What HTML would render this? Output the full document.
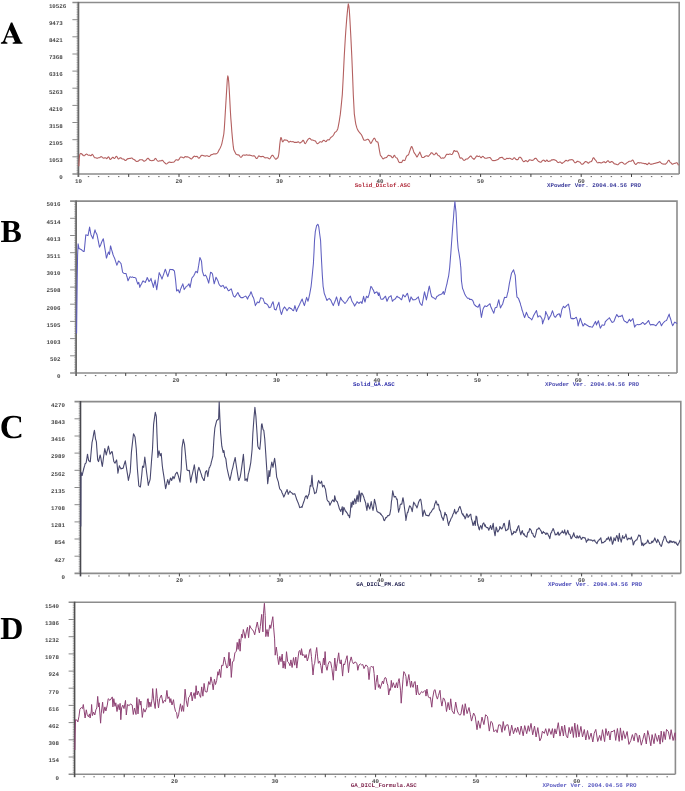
<!DOCTYPE html>
<html><head><meta charset="utf-8"><style>
html,body{margin:0;padding:0;background:#fff;width:685px;height:791px;overflow:hidden}
svg{display:block;will-change:transform;filter:blur(0.35px)}
text{text-rendering:geometricPrecision}
</style></head><body>
<svg width="685" height="791" viewBox="0 0 685 791"><rect width="100%" height="100%" fill="#fff"/><path fill-rule="evenodd" fill="#000" d="M10.9,22.6 L12.3,22.6 L20.9,41.9 Q21.4,42.5 22.4,42.6 L22.4,43.8 L12.7,43.8 L12.7,42.6 Q14.4,42.5 14.9,41.8 L13.2,37.6 L6.4,37.6 L5.2,40.8 Q4.9,42.3 7.4,42.6 L7.4,43.8 L0.9,43.8 L0.9,42.6 Q2.6,42.4 3.4,41 Z M9.6,29.4 L12.75,36.2 L6.9,36.2 Z"/><path d="M72.4,2.5 H679.2 V174.0 M72.4,174.0 H679.2" stroke="#8c8c8c" stroke-width="1.6" fill="none"/><path d="M72.4,156.8 H78.4 M72.4,139.7 H78.4 M72.4,122.5 H78.4 M72.4,105.4 H78.4 M72.4,88.2 H78.4 M72.4,71.1 H78.4 M72.4,54.0 H78.4 M72.4,36.8 H78.4 M72.4,19.7 H78.4 " stroke="#8a8a8a" stroke-width="1" fill="none"/><path d="M76.5,172.3 H78.4 M76.5,170.6 H78.4 M76.5,168.9 H78.4 M76.5,167.1 H78.4 M76.5,165.4 H78.4 M76.5,163.7 H78.4 M76.5,162.0 H78.4 M76.5,160.3 H78.4 M76.5,158.6 H78.4 M76.5,156.8 H78.4 M76.5,155.1 H78.4 M76.5,153.4 H78.4 M76.5,151.7 H78.4 M76.5,150.0 H78.4 M76.5,148.3 H78.4 M76.5,146.6 H78.4 M76.5,144.8 H78.4 M76.5,143.1 H78.4 M76.5,141.4 H78.4 M76.5,139.7 H78.4 M76.5,138.0 H78.4 M76.5,136.3 H78.4 M76.5,134.6 H78.4 M76.5,132.8 H78.4 M76.5,131.1 H78.4 M76.5,129.4 H78.4 M76.5,127.7 H78.4 M76.5,126.0 H78.4 M76.5,124.3 H78.4 M76.5,122.5 H78.4 M76.5,120.8 H78.4 M76.5,119.1 H78.4 M76.5,117.4 H78.4 M76.5,115.7 H78.4 M76.5,114.0 H78.4 M76.5,112.3 H78.4 M76.5,110.5 H78.4 M76.5,108.8 H78.4 M76.5,107.1 H78.4 M76.5,105.4 H78.4 M76.5,103.7 H78.4 M76.5,102.0 H78.4 M76.5,100.3 H78.4 M76.5,98.5 H78.4 M76.5,96.8 H78.4 M76.5,95.1 H78.4 M76.5,93.4 H78.4 M76.5,91.7 H78.4 M76.5,90.0 H78.4 M76.5,88.2 H78.4 M76.5,86.5 H78.4 M76.5,84.8 H78.4 M76.5,83.1 H78.4 M76.5,81.4 H78.4 M76.5,79.7 H78.4 M76.5,78.0 H78.4 M76.5,76.2 H78.4 M76.5,74.5 H78.4 M76.5,72.8 H78.4 M76.5,71.1 H78.4 M76.5,69.4 H78.4 M76.5,67.7 H78.4 M76.5,66.0 H78.4 M76.5,64.2 H78.4 M76.5,62.5 H78.4 M76.5,60.8 H78.4 M76.5,59.1 H78.4 M76.5,57.4 H78.4 M76.5,55.7 H78.4 M76.5,54.0 H78.4 M76.5,52.2 H78.4 M76.5,50.5 H78.4 M76.5,48.8 H78.4 M76.5,47.1 H78.4 M76.5,45.4 H78.4 M76.5,43.7 H78.4 M76.5,41.9 H78.4 M76.5,40.2 H78.4 M76.5,38.5 H78.4 M76.5,36.8 H78.4 M76.5,35.1 H78.4 M76.5,33.4 H78.4 M76.5,31.7 H78.4 M76.5,29.9 H78.4 M76.5,28.2 H78.4 M76.5,26.5 H78.4 M76.5,24.8 H78.4 M76.5,23.1 H78.4 M76.5,21.4 H78.4 M76.5,19.7 H78.4 M76.5,17.9 H78.4 M76.5,16.2 H78.4 M76.5,14.5 H78.4 M76.5,12.8 H78.4 M76.5,11.1 H78.4 M76.5,9.4 H78.4 M76.5,7.6 H78.4 M76.5,5.9 H78.4 M76.5,4.2 H78.4 " stroke="#9a9a9a" stroke-width="0.7" fill="none"/><path d="M78.4,1.9 V177.0" stroke="#686868" stroke-width="1.8" fill="none"/><text x="62.8" y="179.3" text-anchor="end" font-family="Liberation Mono" font-weight="bold" font-size="5.8" fill="#4a4a4a">0</text><text x="62.8" y="162.2" text-anchor="end" font-family="Liberation Mono" font-weight="bold" font-size="5.8" fill="#4a4a4a">1053</text><text x="62.8" y="145.0" text-anchor="end" font-family="Liberation Mono" font-weight="bold" font-size="5.8" fill="#4a4a4a">2105</text><text x="62.8" y="127.8" text-anchor="end" font-family="Liberation Mono" font-weight="bold" font-size="5.8" fill="#4a4a4a">3158</text><text x="62.8" y="110.7" text-anchor="end" font-family="Liberation Mono" font-weight="bold" font-size="5.8" fill="#4a4a4a">4210</text><text x="62.8" y="93.5" text-anchor="end" font-family="Liberation Mono" font-weight="bold" font-size="5.8" fill="#4a4a4a">5263</text><text x="62.8" y="76.4" text-anchor="end" font-family="Liberation Mono" font-weight="bold" font-size="5.8" fill="#4a4a4a">6316</text><text x="62.8" y="59.2" text-anchor="end" font-family="Liberation Mono" font-weight="bold" font-size="5.8" fill="#4a4a4a">7368</text><text x="62.8" y="42.1" text-anchor="end" font-family="Liberation Mono" font-weight="bold" font-size="5.8" fill="#4a4a4a">8421</text><text x="62.8" y="25.0" text-anchor="end" font-family="Liberation Mono" font-weight="bold" font-size="5.8" fill="#4a4a4a">9473</text><text x="48.9" y="7.8" font-family="Liberation Mono" font-weight="bold" font-size="5.8" fill="#4a4a4a">10526</text><path d="M128.7,174.0 V177.0 M179.0,174.0 V177.0 M229.3,174.0 V177.0 M279.6,174.0 V177.0 M329.8,174.0 V177.0 M380.1,174.0 V177.0 M430.4,174.0 V177.0 M480.6,174.0 V177.0 M530.9,174.0 V177.0 M581.2,174.0 V177.0 M631.5,174.0 V177.0 " stroke="#444" stroke-width="1" fill="none"/><path d="M87.8,176.6 H89.2 M97.9,176.6 H99.3 M107.9,176.6 H109.3 M118.0,176.6 H119.4 M138.1,176.6 H139.5 M148.1,176.6 H149.5 M158.2,176.6 H159.6 M168.2,176.6 H169.6 M188.4,176.6 H189.8 M198.4,176.6 H199.8 M208.5,176.6 H209.9 M218.5,176.6 H219.9 M238.6,176.6 H240.0 M248.7,176.6 H250.1 M258.7,176.6 H260.1 M268.8,176.6 H270.2 M288.9,176.6 H290.3 M299.0,176.6 H300.4 M309.0,176.6 H310.4 M319.1,176.6 H320.5 M339.2,176.6 H340.6 M349.2,176.6 H350.6 M359.3,176.6 H360.7 M369.3,176.6 H370.7 M389.5,176.6 H390.9 M399.5,176.6 H400.9 M409.6,176.6 H411.0 M419.6,176.6 H421.0 M439.7,176.6 H441.1 M449.8,176.6 H451.2 M459.8,176.6 H461.2 M469.9,176.6 H471.3 M490.0,176.6 H491.4 M500.1,176.6 H501.5 M510.1,176.6 H511.5 M520.2,176.6 H521.6 M540.3,176.6 H541.7 M550.3,176.6 H551.7 M560.4,176.6 H561.8 M570.4,176.6 H571.8 M590.6,176.6 H592.0 M600.6,176.6 H602.0 M610.7,176.6 H612.1 M620.7,176.6 H622.1 M640.8,176.6 H642.2 M650.9,176.6 H652.3 M660.9,176.6 H662.3 M671.0,176.6 H672.4 " stroke="#666" stroke-width="1" fill="none"/><text x="78.5" y="182.5" text-anchor="middle" font-family="Liberation Mono" font-weight="bold" font-size="5.8" fill="#4a4a4a">10</text><text x="179.0" y="182.5" text-anchor="middle" font-family="Liberation Mono" font-weight="bold" font-size="5.8" fill="#4a4a4a">20</text><text x="279.6" y="182.5" text-anchor="middle" font-family="Liberation Mono" font-weight="bold" font-size="5.8" fill="#4a4a4a">30</text><text x="380.1" y="182.5" text-anchor="middle" font-family="Liberation Mono" font-weight="bold" font-size="5.8" fill="#4a4a4a">40</text><text x="480.6" y="182.5" text-anchor="middle" font-family="Liberation Mono" font-weight="bold" font-size="5.8" fill="#4a4a4a">50</text><text x="581.2" y="182.5" text-anchor="middle" font-family="Liberation Mono" font-weight="bold" font-size="5.8" fill="#4a4a4a">60</text><text x="354.8" y="186.5" font-family="Liberation Mono" font-weight="bold" font-size="5.8" fill="#b02a3a">Solid_Diclof.ASC</text><text x="547.0" y="186.5" font-family="Liberation Mono" font-weight="bold" font-size="5.8" fill="#3a3a9a">XPowder Ver. 2004.04.56 PRO</text><path d="M78.8,166.3 L79.3,157.9 L79.8,154.5 L80.3,153.7 L80.8,153.4 L81.3,153.6 L81.8,154.0 L82.3,154.5 L82.8,155.0 L83.3,155.5 L83.8,155.8 L84.3,155.8 L84.8,155.4 L85.3,154.8 L85.8,154.4 L86.3,154.1 L86.8,154.1 L87.3,154.4 L87.8,154.9 L88.3,155.3 L88.8,155.3 L89.3,155.1 L89.8,155.2 L90.3,155.5 L90.8,155.8 L91.3,155.5 L91.8,154.7 L92.3,154.3 L92.8,154.8 L93.3,155.5 L93.8,156.4 L94.3,157.3 L94.8,157.8 L95.3,157.8 L95.8,157.7 L96.3,157.9 L96.8,158.2 L97.3,158.2 L97.8,158.1 L98.3,157.8 L98.8,157.7 L99.3,157.7 L99.8,157.5 L100.3,157.1 L100.8,156.7 L101.3,156.6 L101.8,156.9 L102.3,157.4 L102.8,157.8 L103.3,158.1 L103.8,158.3 L104.3,158.1 L104.8,157.8 L105.3,157.7 L105.8,157.9 L106.3,158.4 L106.8,158.7 L107.3,158.2 L107.8,157.3 L108.3,156.8 L108.8,157.1 L109.3,157.9 L109.8,159.1 L110.3,159.5 L110.8,159.1 L111.3,158.8 L111.8,158.2 L112.3,157.6 L112.8,157.2 L113.3,157.4 L113.8,158.1 L114.3,158.5 L114.8,158.3 L115.3,157.6 L115.8,156.8 L116.3,156.4 L116.8,156.5 L117.3,157.3 L117.8,158.3 L118.3,158.9 L118.8,158.9 L119.3,158.4 L119.8,157.9 L120.3,157.7 L120.8,157.8 L121.3,158.2 L121.8,158.7 L122.3,158.9 L122.8,159.0 L123.3,159.0 L123.8,159.2 L124.3,159.6 L124.8,160.2 L125.3,160.5 L125.8,160.4 L126.3,160.0 L126.8,159.5 L127.3,159.0 L127.8,158.6 L128.3,158.6 L128.8,158.6 L129.3,158.5 L129.8,158.4 L130.3,158.4 L130.8,158.2 L131.3,158.0 L131.8,158.0 L132.3,158.3 L132.8,158.8 L133.3,159.3 L133.8,159.5 L134.3,159.6 L134.8,160.0 L135.3,160.5 L135.8,161.1 L136.3,161.4 L136.8,161.4 L137.3,161.4 L137.8,161.3 L138.3,161.2 L138.8,160.7 L139.3,160.2 L139.8,159.8 L140.3,159.7 L140.8,159.8 L141.3,159.8 L141.8,159.7 L142.3,159.8 L142.8,160.2 L143.3,160.7 L143.8,161.1 L144.3,161.2 L144.8,161.0 L145.3,160.6 L145.8,160.3 L146.3,159.8 L146.8,159.2 L147.3,158.6 L147.8,158.3 L148.3,158.4 L148.8,158.9 L149.3,159.7 L149.8,160.2 L150.3,160.4 L150.8,160.4 L151.3,160.6 L151.8,160.7 L152.3,160.6 L152.8,160.4 L153.3,160.4 L153.8,160.3 L154.3,159.8 L154.8,158.9 L155.3,158.4 L155.8,158.6 L156.3,159.3 L156.8,160.0 L157.3,160.6 L157.8,161.0 L158.3,161.2 L158.8,161.2 L159.3,160.9 L159.8,160.7 L160.3,160.8 L160.8,160.9 L161.3,160.7 L161.8,160.4 L162.3,160.3 L162.8,160.6 L163.3,161.2 L163.8,161.8 L164.3,162.3 L164.8,162.8 L165.3,163.3 L165.8,163.7 L166.3,163.9 L166.8,163.7 L167.3,163.4 L167.8,163.0 L168.3,162.6 L168.8,162.3 L169.3,162.1 L169.8,162.1 L170.3,162.2 L170.8,162.5 L171.3,162.5 L171.8,162.4 L172.3,162.3 L172.8,162.2 L173.3,162.2 L173.8,162.0 L174.3,161.7 L174.8,161.1 L175.3,160.5 L175.8,159.9 L176.3,159.7 L176.8,159.7 L177.3,160.0 L177.8,160.3 L178.3,160.2 L178.8,159.7 L179.3,158.9 L179.8,158.0 L180.3,157.3 L180.8,157.0 L181.3,157.0 L181.8,157.2 L182.3,157.3 L182.8,157.5 L183.3,157.8 L183.8,157.9 L184.3,157.4 L184.8,156.8 L185.3,156.6 L185.8,156.7 L186.3,156.9 L186.8,156.9 L187.3,156.9 L187.8,156.9 L188.3,157.1 L188.8,157.4 L189.3,157.7 L189.8,158.0 L190.3,158.4 L190.8,158.8 L191.3,159.0 L191.8,158.7 L192.3,158.1 L192.8,157.5 L193.3,157.0 L193.8,156.5 L194.3,156.1 L194.8,156.2 L195.3,156.6 L195.8,156.8 L196.3,156.6 L196.8,156.3 L197.3,156.5 L197.8,157.1 L198.3,157.9 L198.8,158.2 L199.3,158.0 L199.8,157.5 L200.3,156.8 L200.8,156.0 L201.3,155.5 L201.8,155.2 L202.3,155.3 L202.8,155.5 L203.3,155.6 L203.8,155.7 L204.3,155.9 L204.8,156.0 L205.3,156.1 L205.8,156.0 L206.3,155.8 L206.8,155.7 L207.3,155.8 L207.8,156.1 L208.3,156.3 L208.8,156.5 L209.3,156.5 L209.8,156.1 L210.3,155.5 L210.8,155.0 L211.3,154.8 L211.8,154.6 L212.3,154.5 L212.8,154.3 L213.3,154.0 L213.8,153.9 L214.3,154.0 L214.8,153.9 L215.3,153.9 L215.8,153.9 L216.3,153.7 L216.8,153.4 L217.3,153.1 L217.8,152.4 L218.3,151.6 L218.8,150.5 L219.3,149.5 L219.8,148.7 L220.3,147.8 L220.8,146.6 L221.3,145.4 L221.8,143.8 L222.3,141.5 L222.8,139.2 L223.3,136.6 L223.8,134.0 L224.3,128.6 L224.8,120.8 L225.3,112.4 L225.8,104.0 L226.3,95.9 L226.8,87.7 L227.3,79.6 L227.8,75.9 L228.3,77.6 L228.8,82.7 L229.3,90.8 L229.8,100.1 L230.3,109.7 L230.8,118.0 L231.3,124.1 L231.8,131.3 L232.3,136.9 L232.8,142.1 L233.3,146.7 L233.8,149.8 L234.3,150.7 L234.8,151.7 L235.3,152.7 L235.8,153.8 L236.3,154.3 L236.8,154.6 L237.3,154.8 L237.8,154.9 L238.3,154.9 L238.8,155.0 L239.3,155.5 L239.8,156.3 L240.3,157.0 L240.8,157.2 L241.3,157.1 L241.8,156.6 L242.3,155.9 L242.8,155.2 L243.3,155.0 L243.8,155.0 L244.3,155.1 L244.8,155.3 L245.3,155.3 L245.8,155.1 L246.3,154.8 L246.8,154.7 L247.3,155.0 L247.8,155.2 L248.3,155.2 L248.8,155.1 L249.3,155.0 L249.8,155.1 L250.3,155.2 L250.8,155.4 L251.3,155.6 L251.8,155.8 L252.3,156.0 L252.8,156.0 L253.3,155.9 L253.8,155.8 L254.3,155.9 L254.8,156.2 L255.3,157.0 L255.8,157.9 L256.3,158.4 L256.8,158.5 L257.3,158.1 L257.8,157.3 L258.3,156.4 L258.8,155.9 L259.3,156.0 L259.8,156.4 L260.3,156.6 L260.8,156.6 L261.3,156.6 L261.8,156.6 L262.3,156.5 L262.8,156.4 L263.3,156.5 L263.8,156.9 L264.3,157.4 L264.8,157.8 L265.3,157.9 L265.8,157.8 L266.3,157.8 L266.8,157.8 L267.3,157.8 L267.8,157.9 L268.3,158.1 L268.8,158.6 L269.3,158.9 L269.8,158.8 L270.3,158.1 L270.8,157.2 L271.3,156.3 L271.8,155.6 L272.3,155.2 L272.8,155.3 L273.3,155.9 L273.8,156.8 L274.3,157.5 L274.8,158.1 L275.3,158.8 L275.8,159.3 L276.3,159.1 L276.8,158.5 L277.3,158.0 L277.8,157.9 L278.3,156.5 L278.8,154.0 L279.3,149.6 L279.8,144.1 L280.3,140.2 L280.8,137.6 L281.3,137.7 L281.8,139.6 L282.3,141.4 L282.8,141.8 L283.3,141.2 L283.8,140.5 L284.3,140.0 L284.8,139.7 L285.3,139.9 L285.8,140.2 L286.3,140.2 L286.8,140.1 L287.3,140.4 L287.8,141.0 L288.3,141.7 L288.8,142.1 L289.3,142.0 L289.8,141.6 L290.3,141.3 L290.8,141.5 L291.3,141.7 L291.8,141.8 L292.3,141.7 L292.8,141.6 L293.3,141.7 L293.8,142.0 L294.3,142.4 L294.8,142.5 L295.3,142.4 L295.8,142.3 L296.3,142.4 L296.8,142.5 L297.3,142.2 L297.8,141.9 L298.3,141.8 L298.8,142.1 L299.3,142.6 L299.8,143.0 L300.3,142.9 L300.8,142.5 L301.3,142.1 L301.8,141.8 L302.3,141.2 L302.8,140.4 L303.3,140.4 L303.8,141.1 L304.3,142.2 L304.8,143.4 L305.3,143.6 L305.8,143.0 L306.3,142.2 L306.8,141.3 L307.3,140.4 L307.8,139.7 L308.3,139.2 L308.8,138.7 L309.3,138.4 L309.8,138.4 L310.3,138.7 L310.8,139.3 L311.3,139.8 L311.8,140.1 L312.3,140.0 L312.8,140.0 L313.3,140.3 L313.8,140.5 L314.3,140.7 L314.8,140.7 L315.3,140.9 L315.8,141.6 L316.3,142.5 L316.8,143.3 L317.3,143.6 L317.8,143.6 L318.3,143.3 L318.8,142.9 L319.3,142.3 L319.8,141.9 L320.3,141.7 L320.8,141.8 L321.3,142.0 L321.8,142.1 L322.3,141.6 L322.8,140.9 L323.3,140.5 L323.8,140.2 L324.3,140.5 L324.8,140.9 L325.3,141.2 L325.8,141.6 L326.3,141.4 L326.8,140.6 L327.3,140.0 L327.8,139.7 L328.3,139.8 L328.8,140.0 L329.3,139.7 L329.8,139.0 L330.3,138.1 L330.8,137.5 L331.3,137.1 L331.8,136.7 L332.3,136.4 L332.8,135.9 L333.3,135.3 L333.8,134.4 L334.3,133.4 L334.8,132.5 L335.3,132.1 L335.8,131.8 L336.3,131.4 L336.8,130.7 L337.3,129.9 L337.8,128.7 L338.3,126.3 L338.8,123.7 L339.3,120.8 L339.8,117.5 L340.3,114.4 L340.8,109.8 L341.3,104.9 L341.8,99.7 L342.3,94.6 L342.8,85.3 L343.3,76.0 L343.8,65.4 L344.3,55.2 L344.8,46.7 L345.3,38.2 L345.8,30.8 L346.3,24.2 L346.8,17.9 L347.3,12.6 L347.8,7.5 L348.3,3.9 L348.8,5.8 L349.3,10.0 L349.8,17.8 L350.3,26.8 L350.8,36.0 L351.3,46.1 L351.8,56.5 L352.3,68.5 L352.8,81.2 L353.3,94.7 L353.8,104.3 L354.3,113.8 L354.8,117.4 L355.3,121.1 L355.8,124.1 L356.3,125.9 L356.8,127.7 L357.3,128.9 L357.8,129.9 L358.3,130.9 L358.8,131.6 L359.3,132.2 L359.8,132.8 L360.3,133.4 L360.8,134.0 L361.3,134.6 L361.8,135.5 L362.3,136.6 L362.8,137.8 L363.3,139.1 L363.8,140.1 L364.3,140.3 L364.8,140.3 L365.3,140.2 L365.8,140.0 L366.3,139.9 L366.8,139.6 L367.3,139.3 L367.8,139.3 L368.3,139.5 L368.8,140.0 L369.3,140.8 L369.8,141.8 L370.3,142.8 L370.8,143.4 L371.3,143.1 L371.8,142.1 L372.3,141.1 L372.8,140.2 L373.3,139.3 L373.8,138.4 L374.3,138.1 L374.8,138.6 L375.3,139.5 L375.8,140.7 L376.3,141.5 L376.8,141.8 L377.3,141.9 L377.8,142.0 L378.3,143.7 L378.8,146.6 L379.3,149.6 L379.8,152.4 L380.3,154.9 L380.8,155.9 L381.3,156.3 L381.8,157.1 L382.3,158.0 L382.8,158.8 L383.3,158.9 L383.8,158.5 L384.3,158.1 L384.8,157.9 L385.3,157.8 L385.8,157.8 L386.3,157.6 L386.8,157.2 L387.3,156.5 L387.8,155.8 L388.3,155.3 L388.8,155.3 L389.3,155.6 L389.8,155.8 L390.3,155.9 L390.8,155.9 L391.3,156.4 L391.8,157.2 L392.3,157.8 L392.8,157.8 L393.3,156.9 L393.8,155.8 L394.3,155.3 L394.8,155.7 L395.3,156.7 L395.8,157.4 L396.3,157.7 L396.8,157.9 L397.3,158.5 L397.8,159.5 L398.3,160.8 L398.8,161.9 L399.3,162.4 L399.8,162.6 L400.3,162.5 L400.8,162.4 L401.3,162.6 L401.8,162.3 L402.3,161.3 L402.8,160.3 L403.3,160.1 L403.8,160.4 L404.3,160.6 L404.8,160.4 L405.3,159.4 L405.8,158.1 L406.3,156.8 L406.8,155.9 L407.3,155.4 L407.8,155.3 L408.3,154.9 L408.8,153.9 L409.3,152.3 L409.8,150.8 L410.3,149.3 L410.8,148.0 L411.3,146.8 L411.8,146.5 L412.3,147.6 L412.8,148.8 L413.3,150.3 L413.8,151.9 L414.3,152.9 L414.8,153.6 L415.3,154.3 L415.8,155.1 L416.3,156.0 L416.8,156.9 L417.3,156.7 L417.8,155.7 L418.3,154.8 L418.8,154.0 L419.3,153.1 L419.8,152.0 L420.3,153.3 L420.8,154.5 L421.3,155.8 L421.8,157.1 L422.3,157.5 L422.8,157.5 L423.3,157.5 L423.8,157.3 L424.3,157.0 L424.8,156.5 L425.3,156.2 L425.8,156.0 L426.3,155.8 L426.8,155.8 L427.3,155.9 L427.8,156.3 L428.3,156.4 L428.8,155.9 L429.3,155.2 L429.8,154.7 L430.3,154.1 L430.8,153.3 L431.3,152.7 L431.8,152.7 L432.3,153.1 L432.8,153.6 L433.3,154.3 L433.8,154.8 L434.3,154.8 L434.8,154.4 L435.3,153.9 L435.8,153.1 L436.3,153.0 L436.8,153.5 L437.3,154.3 L437.8,155.1 L438.3,155.5 L438.8,155.7 L439.3,156.0 L439.8,156.5 L440.3,157.2 L440.8,158.0 L441.3,158.3 L441.8,158.2 L442.3,158.0 L442.8,157.9 L443.3,158.1 L443.8,158.1 L444.3,157.8 L444.8,157.3 L445.3,156.6 L445.8,155.6 L446.3,154.7 L446.8,154.3 L447.3,154.3 L447.8,154.4 L448.3,154.5 L448.8,154.4 L449.3,154.1 L449.8,154.0 L450.3,154.0 L450.8,154.3 L451.3,154.5 L451.8,154.5 L452.3,154.1 L452.8,153.4 L453.3,152.2 L453.8,151.0 L454.3,150.5 L454.8,150.8 L455.3,151.3 L455.8,151.4 L456.3,151.2 L456.8,151.0 L457.3,151.5 L457.8,152.2 L458.3,153.0 L458.8,154.4 L459.3,156.1 L459.8,157.6 L460.3,158.2 L460.8,158.0 L461.3,157.9 L461.8,158.1 L462.3,158.6 L462.8,159.2 L463.3,159.8 L463.8,160.3 L464.3,160.4 L464.8,160.1 L465.3,159.7 L465.8,159.3 L466.3,159.0 L466.8,159.0 L467.3,159.0 L467.8,158.7 L468.3,158.1 L468.8,157.6 L469.3,157.2 L469.8,156.6 L470.3,156.1 L470.8,156.0 L471.3,156.5 L471.8,157.3 L472.3,158.0 L472.8,158.4 L473.3,158.8 L473.8,159.2 L474.3,159.1 L474.8,158.4 L475.3,157.8 L475.8,157.1 L476.3,156.4 L476.8,155.9 L477.3,156.0 L477.8,156.4 L478.3,156.6 L478.8,156.4 L479.3,156.1 L479.8,156.3 L480.3,157.0 L480.8,157.6 L481.3,157.7 L481.8,157.1 L482.3,156.5 L482.8,156.4 L483.3,156.6 L483.8,157.1 L484.3,157.5 L484.8,158.1 L485.3,158.2 L485.8,158.2 L486.3,158.2 L486.8,158.2 L487.3,157.9 L487.8,157.7 L488.3,157.7 L488.8,157.7 L489.3,157.5 L489.8,157.5 L490.3,157.8 L490.8,158.4 L491.3,159.2 L491.8,159.9 L492.3,160.3 L492.8,160.6 L493.3,160.6 L493.8,160.5 L494.3,160.5 L494.8,160.6 L495.3,160.5 L495.8,160.2 L496.3,160.1 L496.8,159.9 L497.3,159.8 L497.8,159.5 L498.3,159.2 L498.8,158.8 L499.3,158.2 L499.8,157.7 L500.3,157.6 L500.8,157.6 L501.3,157.5 L501.8,157.3 L502.3,157.4 L502.8,157.9 L503.3,158.6 L503.8,159.0 L504.3,159.2 L504.8,159.4 L505.3,159.4 L505.8,159.1 L506.3,158.6 L506.8,158.3 L507.3,158.4 L507.8,158.6 L508.3,158.6 L508.8,158.4 L509.3,158.3 L509.8,158.3 L510.3,158.5 L510.8,158.8 L511.3,159.0 L511.8,159.3 L512.3,159.4 L512.8,159.2 L513.3,158.5 L513.8,157.9 L514.3,157.7 L514.8,158.0 L515.3,158.7 L515.8,159.3 L516.3,159.6 L516.8,159.6 L517.3,159.6 L517.8,159.7 L518.3,159.2 L518.8,157.9 L519.3,157.3 L519.8,157.2 L520.3,157.3 L520.8,157.7 L521.3,158.2 L521.8,158.9 L522.3,159.9 L522.8,160.8 L523.3,161.5 L523.8,161.8 L524.3,161.6 L524.8,161.2 L525.3,160.8 L525.8,160.6 L526.3,160.7 L526.8,161.1 L527.3,161.6 L527.8,161.7 L528.3,161.2 L528.8,160.4 L529.3,159.8 L529.8,159.7 L530.3,159.9 L530.8,160.1 L531.3,160.3 L531.8,160.4 L532.3,160.4 L532.8,160.3 L533.3,160.1 L533.8,159.6 L534.3,159.0 L534.8,158.5 L535.3,158.3 L535.8,158.2 L536.3,158.6 L536.8,159.3 L537.3,159.9 L537.8,160.6 L538.3,161.1 L538.8,161.6 L539.3,161.8 L539.8,162.0 L540.3,162.2 L540.8,162.3 L541.3,162.0 L541.8,161.3 L542.3,160.7 L542.8,160.4 L543.3,160.3 L543.8,160.1 L544.3,160.4 L544.8,161.1 L545.3,161.5 L545.8,161.2 L546.3,160.4 L546.8,160.0 L547.3,160.4 L547.8,161.1 L548.3,161.5 L548.8,161.4 L549.3,161.1 L549.8,161.1 L550.3,161.0 L550.8,160.7 L551.3,160.1 L551.8,159.7 L552.3,159.7 L552.8,159.9 L553.3,159.8 L553.8,159.6 L554.3,159.7 L554.8,160.0 L555.3,160.3 L555.8,160.4 L556.3,160.7 L556.8,161.3 L557.3,161.9 L557.8,162.4 L558.3,162.6 L558.8,162.4 L559.3,162.1 L559.8,162.0 L560.3,162.0 L560.8,162.4 L561.3,162.9 L561.8,163.4 L562.3,163.4 L562.8,162.9 L563.3,162.4 L563.8,162.1 L564.3,161.7 L564.8,161.3 L565.3,160.8 L565.8,160.4 L566.3,160.4 L566.8,160.6 L567.3,161.0 L567.8,161.0 L568.3,160.7 L568.8,160.3 L569.3,160.0 L569.8,159.9 L570.3,159.9 L570.8,159.8 L571.3,159.7 L571.8,159.6 L572.3,159.7 L572.8,160.0 L573.3,160.4 L573.8,161.2 L574.3,162.0 L574.8,162.6 L575.3,162.7 L575.8,162.6 L576.3,162.3 L576.8,161.7 L577.3,161.3 L577.8,161.2 L578.3,161.5 L578.8,161.7 L579.3,161.9 L579.8,162.1 L580.3,162.5 L580.8,163.2 L581.3,163.9 L581.8,164.3 L582.3,164.2 L582.8,164.1 L583.3,163.7 L583.8,163.3 L584.3,162.6 L584.8,162.0 L585.3,161.6 L585.8,161.6 L586.3,161.8 L586.8,162.0 L587.3,162.3 L587.8,162.8 L588.3,163.2 L588.8,163.0 L589.3,162.4 L589.8,161.9 L590.3,161.7 L590.8,161.7 L591.3,161.5 L591.8,161.0 L592.3,159.9 L592.8,158.5 L593.3,157.7 L593.8,157.8 L594.3,158.6 L594.8,159.4 L595.3,159.9 L595.8,160.5 L596.3,161.1 L596.8,162.0 L597.3,162.6 L597.8,162.9 L598.3,162.7 L598.8,162.4 L599.3,162.5 L599.8,162.6 L600.3,162.8 L600.8,162.9 L601.3,163.0 L601.8,162.8 L602.3,162.5 L602.8,162.2 L603.3,161.9 L603.8,161.7 L604.3,161.8 L604.8,162.2 L605.3,162.6 L605.8,162.6 L606.3,162.2 L606.8,161.6 L607.3,161.1 L607.8,160.7 L608.3,160.8 L608.8,161.4 L609.3,162.1 L609.8,162.5 L610.3,162.4 L610.8,162.0 L611.3,161.6 L611.8,161.6 L612.3,161.7 L612.8,162.1 L613.3,162.7 L613.8,163.3 L614.3,163.7 L614.8,163.9 L615.3,164.0 L615.8,164.1 L616.3,164.3 L616.8,164.6 L617.3,164.8 L617.8,164.8 L618.3,164.4 L618.8,163.8 L619.3,163.3 L619.8,162.9 L620.3,162.7 L620.8,162.5 L621.3,162.3 L621.8,162.2 L622.3,162.4 L622.8,162.8 L623.3,163.1 L623.8,163.6 L624.3,164.0 L624.8,164.2 L625.3,164.1 L625.8,163.8 L626.3,163.3 L626.8,162.9 L627.3,162.6 L627.8,162.3 L628.3,161.9 L628.8,161.5 L629.3,161.3 L629.8,161.2 L630.3,161.2 L630.8,161.2 L631.3,161.1 L631.8,160.6 L632.3,160.1 L632.8,160.1 L633.3,160.7 L633.8,161.7 L634.3,162.9 L634.8,163.7 L635.3,164.2 L635.8,164.4 L636.3,164.2 L636.8,163.7 L637.3,163.0 L637.8,162.7 L638.3,162.6 L638.8,162.8 L639.3,162.9 L639.8,162.9 L640.3,162.8 L640.8,162.8 L641.3,162.9 L641.8,163.1 L642.3,163.3 L642.8,163.3 L643.3,163.3 L643.8,163.5 L644.3,163.6 L644.8,163.6 L645.3,163.5 L645.8,163.6 L646.3,164.0 L646.8,164.5 L647.3,164.6 L647.8,164.2 L648.3,163.5 L648.8,163.0 L649.3,163.1 L649.8,163.6 L650.3,164.1 L650.8,164.4 L651.3,164.3 L651.8,164.1 L652.3,164.0 L652.8,164.0 L653.3,163.7 L653.8,163.5 L654.3,163.5 L654.8,163.4 L655.3,163.3 L655.8,163.1 L656.3,163.0 L656.8,162.7 L657.3,162.6 L657.8,162.6 L658.3,162.5 L658.8,162.2 L659.3,161.8 L659.8,161.7 L660.3,162.1 L660.8,162.7 L661.3,163.2 L661.8,163.5 L662.3,163.8 L662.8,164.0 L663.3,164.1 L663.8,164.0 L664.3,164.0 L664.8,164.2 L665.3,164.2 L665.8,163.8 L666.3,163.4 L666.8,162.9 L667.3,162.1 L667.8,161.2 L668.3,160.5 L668.8,160.2 L669.3,160.7 L669.8,161.7 L670.3,162.4 L670.8,162.7 L671.3,163.1 L671.8,163.8 L672.3,164.2 L672.8,164.2 L673.3,163.9 L673.8,163.6 L674.3,163.4 L674.8,163.2 L675.3,163.2 L675.8,163.1 L676.3,162.8 L676.8,162.7 L677.3,163.2 L677.8,164.0 L678.3,164.9 L678.8,165.1" stroke="#b46060" stroke-width="1.1" fill="none" stroke-linejoin="round"/><text x="0.6" y="242.0" font-family="Liberation Serif" font-weight="bold" font-size="32" fill="#000">B</text><path d="M70.1,201.1 H677.0 V373.0 M70.1,373.0 H677.0" stroke="#8c8c8c" stroke-width="1.6" fill="none"/><path d="M70.1,355.8 H76.1 M70.1,338.6 H76.1 M70.1,321.4 H76.1 M70.1,304.2 H76.1 M70.1,287.1 H76.1 M70.1,269.9 H76.1 M70.1,252.7 H76.1 M70.1,235.5 H76.1 M70.1,218.3 H76.1 " stroke="#8a8a8a" stroke-width="1" fill="none"/><path d="M74.2,371.3 H76.1 M74.2,369.6 H76.1 M74.2,367.8 H76.1 M74.2,366.1 H76.1 M74.2,364.4 H76.1 M74.2,362.7 H76.1 M74.2,361.0 H76.1 M74.2,359.2 H76.1 M74.2,357.5 H76.1 M74.2,355.8 H76.1 M74.2,354.1 H76.1 M74.2,352.4 H76.1 M74.2,350.7 H76.1 M74.2,348.9 H76.1 M74.2,347.2 H76.1 M74.2,345.5 H76.1 M74.2,343.8 H76.1 M74.2,342.1 H76.1 M74.2,340.3 H76.1 M74.2,338.6 H76.1 M74.2,336.9 H76.1 M74.2,335.2 H76.1 M74.2,333.5 H76.1 M74.2,331.7 H76.1 M74.2,330.0 H76.1 M74.2,328.3 H76.1 M74.2,326.6 H76.1 M74.2,324.9 H76.1 M74.2,323.1 H76.1 M74.2,321.4 H76.1 M74.2,319.7 H76.1 M74.2,318.0 H76.1 M74.2,316.3 H76.1 M74.2,314.6 H76.1 M74.2,312.8 H76.1 M74.2,311.1 H76.1 M74.2,309.4 H76.1 M74.2,307.7 H76.1 M74.2,306.0 H76.1 M74.2,304.2 H76.1 M74.2,302.5 H76.1 M74.2,300.8 H76.1 M74.2,299.1 H76.1 M74.2,297.4 H76.1 M74.2,295.6 H76.1 M74.2,293.9 H76.1 M74.2,292.2 H76.1 M74.2,290.5 H76.1 M74.2,288.8 H76.1 M74.2,287.1 H76.1 M74.2,285.3 H76.1 M74.2,283.6 H76.1 M74.2,281.9 H76.1 M74.2,280.2 H76.1 M74.2,278.5 H76.1 M74.2,276.7 H76.1 M74.2,275.0 H76.1 M74.2,273.3 H76.1 M74.2,271.6 H76.1 M74.2,269.9 H76.1 M74.2,268.1 H76.1 M74.2,266.4 H76.1 M74.2,264.7 H76.1 M74.2,263.0 H76.1 M74.2,261.3 H76.1 M74.2,259.5 H76.1 M74.2,257.8 H76.1 M74.2,256.1 H76.1 M74.2,254.4 H76.1 M74.2,252.7 H76.1 M74.2,251.0 H76.1 M74.2,249.2 H76.1 M74.2,247.5 H76.1 M74.2,245.8 H76.1 M74.2,244.1 H76.1 M74.2,242.4 H76.1 M74.2,240.6 H76.1 M74.2,238.9 H76.1 M74.2,237.2 H76.1 M74.2,235.5 H76.1 M74.2,233.8 H76.1 M74.2,232.0 H76.1 M74.2,230.3 H76.1 M74.2,228.6 H76.1 M74.2,226.9 H76.1 M74.2,225.2 H76.1 M74.2,223.4 H76.1 M74.2,221.7 H76.1 M74.2,220.0 H76.1 M74.2,218.3 H76.1 M74.2,216.6 H76.1 M74.2,214.9 H76.1 M74.2,213.1 H76.1 M74.2,211.4 H76.1 M74.2,209.7 H76.1 M74.2,208.0 H76.1 M74.2,206.3 H76.1 M74.2,204.5 H76.1 M74.2,202.8 H76.1 " stroke="#9a9a9a" stroke-width="0.7" fill="none"/><path d="M76.1,200.5 V376.0" stroke="#6c6c6c" stroke-width="1.8" fill="none"/><text x="60.5" y="378.3" text-anchor="end" font-family="Liberation Mono" font-weight="bold" font-size="5.8" fill="#4a4a4a">0</text><text x="60.5" y="361.1" text-anchor="end" font-family="Liberation Mono" font-weight="bold" font-size="5.8" fill="#4a4a4a">502</text><text x="60.5" y="343.9" text-anchor="end" font-family="Liberation Mono" font-weight="bold" font-size="5.8" fill="#4a4a4a">1003</text><text x="60.5" y="326.7" text-anchor="end" font-family="Liberation Mono" font-weight="bold" font-size="5.8" fill="#4a4a4a">1505</text><text x="60.5" y="309.5" text-anchor="end" font-family="Liberation Mono" font-weight="bold" font-size="5.8" fill="#4a4a4a">2006</text><text x="60.5" y="292.4" text-anchor="end" font-family="Liberation Mono" font-weight="bold" font-size="5.8" fill="#4a4a4a">2508</text><text x="60.5" y="275.2" text-anchor="end" font-family="Liberation Mono" font-weight="bold" font-size="5.8" fill="#4a4a4a">3010</text><text x="60.5" y="258.0" text-anchor="end" font-family="Liberation Mono" font-weight="bold" font-size="5.8" fill="#4a4a4a">3511</text><text x="60.5" y="240.8" text-anchor="end" font-family="Liberation Mono" font-weight="bold" font-size="5.8" fill="#4a4a4a">4013</text><text x="60.5" y="223.6" text-anchor="end" font-family="Liberation Mono" font-weight="bold" font-size="5.8" fill="#4a4a4a">4514</text><text x="60.5" y="206.4" text-anchor="end" font-family="Liberation Mono" font-weight="bold" font-size="5.8" fill="#4a4a4a">5016</text><path d="M125.7,373.0 V376.0 M176.0,373.0 V376.0 M226.3,373.0 V376.0 M276.6,373.0 V376.0 M326.8,373.0 V376.0 M377.1,373.0 V376.0 M427.4,373.0 V376.0 M477.6,373.0 V376.0 M527.9,373.0 V376.0 M578.2,373.0 V376.0 M628.5,373.0 V376.0 " stroke="#444" stroke-width="1" fill="none"/><path d="M84.8,375.6 H86.2 M94.9,375.6 H96.3 M104.9,375.6 H106.3 M115.0,375.6 H116.4 M135.1,375.6 H136.5 M145.1,375.6 H146.5 M155.2,375.6 H156.6 M165.2,375.6 H166.6 M185.4,375.6 H186.8 M195.4,375.6 H196.8 M205.5,375.6 H206.9 M215.5,375.6 H216.9 M235.6,375.6 H237.0 M245.7,375.6 H247.1 M255.7,375.6 H257.1 M265.8,375.6 H267.2 M285.9,375.6 H287.3 M296.0,375.6 H297.4 M306.0,375.6 H307.4 M316.1,375.6 H317.5 M336.2,375.6 H337.6 M346.2,375.6 H347.6 M356.3,375.6 H357.7 M366.3,375.6 H367.7 M386.5,375.6 H387.9 M396.5,375.6 H397.9 M406.6,375.6 H408.0 M416.6,375.6 H418.0 M436.7,375.6 H438.1 M446.8,375.6 H448.2 M456.8,375.6 H458.2 M466.9,375.6 H468.3 M487.0,375.6 H488.4 M497.1,375.6 H498.5 M507.1,375.6 H508.5 M517.2,375.6 H518.6 M537.3,375.6 H538.7 M547.3,375.6 H548.7 M557.4,375.6 H558.8 M567.4,375.6 H568.8 M587.6,375.6 H589.0 M597.6,375.6 H599.0 M607.7,375.6 H609.1 M617.7,375.6 H619.1 M637.8,375.6 H639.2 M647.9,375.6 H649.3 M657.9,375.6 H659.3 M668.0,375.6 H669.4 " stroke="#666" stroke-width="1" fill="none"/><text x="176.0" y="381.5" text-anchor="middle" font-family="Liberation Mono" font-weight="bold" font-size="5.8" fill="#4a4a4a">20</text><text x="276.6" y="381.5" text-anchor="middle" font-family="Liberation Mono" font-weight="bold" font-size="5.8" fill="#4a4a4a">30</text><text x="377.1" y="381.5" text-anchor="middle" font-family="Liberation Mono" font-weight="bold" font-size="5.8" fill="#4a4a4a">40</text><text x="477.6" y="381.5" text-anchor="middle" font-family="Liberation Mono" font-weight="bold" font-size="5.8" fill="#4a4a4a">50</text><text x="578.2" y="381.5" text-anchor="middle" font-family="Liberation Mono" font-weight="bold" font-size="5.8" fill="#4a4a4a">60</text><text x="353.0" y="385.5" font-family="Liberation Mono" font-weight="bold" font-size="5.8" fill="#2a2aa8">Solid_GA.ASC</text><text x="545.0" y="385.5" font-family="Liberation Mono" font-weight="bold" font-size="5.8" fill="#4a4ab0">XPowder Ver. 2004.04.56 PRO</text><path d="M76.6,333.4 L77.2,280.0 L77.6,255.0 L78.1,243.8 L78.6,246.4 L79.0,248.7 L79.6,248.8 L80.6,249.3 L81.6,249.8 L82.0,250.4 L82.6,250.8 L83.6,251.5 L84.2,251.5 L84.6,247.4 L85.6,236.9 L85.8,234.7 L86.6,235.1 L87.6,235.4 L88.0,235.6 L88.6,232.7 L89.6,227.1 L90.6,232.9 L91.0,234.7 L91.6,236.0 L92.6,238.1 L92.9,238.8 L93.6,235.5 L94.6,231.5 L95.0,229.8 L95.6,231.9 L96.6,233.7 L97.0,234.7 L97.6,237.6 L98.6,242.7 L99.5,247.1 L99.6,247.1 L100.6,245.0 L101.6,242.3 L102.6,240.0 L103.3,238.8 L103.6,240.4 L104.6,246.9 L105.6,252.6 L106.4,258.1 L106.6,257.9 L107.6,254.4 L108.5,252.0 L108.6,252.2 L109.5,254.5 L109.6,254.0 L110.5,245.9 L110.6,246.0 L111.6,249.7 L112.6,253.0 L113.0,254.5 L113.6,256.1 L114.6,258.3 L115.0,259.4 L115.6,261.4 L116.6,264.4 L116.8,265.2 L117.6,263.5 L118.5,261.0 L118.6,261.0 L119.6,261.8 L120.6,263.2 L121.0,263.5 L121.6,266.3 L122.5,271.7 L122.6,272.2 L123.6,273.1 L124.0,273.4 L124.6,273.5 L125.6,273.4 L126.0,273.4 L126.6,275.7 L127.0,276.7 L127.6,279.2 L128.0,280.8 L128.6,279.5 L129.6,277.4 L130.0,276.7 L130.6,276.9 L131.6,277.4 L132.6,276.9 L133.0,277.2 L133.6,277.5 L134.6,277.5 L135.0,277.5 L135.6,278.1 L136.0,278.3 L136.6,280.6 L137.6,283.6 L137.8,284.1 L138.6,282.5 L138.8,282.4 L139.6,286.4 L139.8,287.4 L140.6,285.4 L141.6,283.8 L142.6,281.5 L143.1,280.8 L143.6,281.5 L144.6,281.9 L145.5,282.4 L145.6,281.5 L146.6,279.6 L147.2,277.5 L147.6,278.3 L148.6,280.5 L149.0,281.6 L149.6,280.9 L150.6,279.5 L151.0,278.3 L151.6,281.1 L152.6,284.2 L153.4,287.4 L153.6,286.2 L154.6,282.5 L155.1,280.0 L155.6,283.1 L156.6,288.9 L156.7,289.8 L157.6,284.0 L158.6,276.7 L159.2,272.6 L159.6,273.5 L160.6,275.5 L161.6,278.1 L162.0,279.1 L162.6,277.2 L163.6,274.3 L164.6,271.1 L165.3,269.3 L165.6,270.0 L166.6,273.2 L167.6,276.0 L167.8,276.7 L168.6,273.9 L169.6,270.4 L169.9,269.3 L170.6,269.4 L171.6,269.6 L172.6,269.6 L173.0,269.6 L173.6,270.4 L174.4,270.7 L174.6,272.4 L175.5,279.4 L175.6,280.2 L176.6,291.0 L177.6,290.1 L178.0,289.6 L178.6,290.8 L179.5,292.8 L179.6,292.8 L180.6,288.9 L181.0,288.2 L181.6,286.8 L182.6,284.4 L182.8,283.8 L183.6,286.8 L184.2,289.6 L184.6,288.6 L185.6,287.9 L186.0,286.7 L186.6,286.4 L187.6,285.6 L188.0,285.3 L188.6,284.1 L189.0,283.8 L189.6,286.0 L190.1,287.4 L190.6,284.6 L191.6,279.4 L191.9,278.0 L192.6,277.2 L193.6,276.0 L194.1,275.0 L194.6,274.0 L195.6,271.8 L196.0,271.4 L196.6,271.9 L197.5,272.8 L197.6,271.8 L198.5,266.3 L198.6,265.9 L199.6,259.3 L199.9,257.5 L200.6,258.9 L201.5,261.2 L201.6,262.1 L202.4,271.4 L202.6,271.9 L203.6,275.0 L203.9,275.8 L204.6,275.8 L205.5,275.0 L205.6,275.3 L206.6,276.8 L207.0,278.0 L207.6,279.6 L208.6,282.9 L208.7,283.1 L209.6,277.9 L210.6,272.2 L211.6,272.7 L212.3,273.6 L212.6,274.7 L213.6,280.6 L214.2,283.8 L214.6,282.4 L215.6,279.0 L216.0,277.2 L216.6,278.3 L217.6,280.2 L218.0,280.9 L218.6,283.1 L219.2,284.5 L219.6,285.2 L220.6,286.1 L221.1,286.7 L221.6,286.1 L222.6,285.8 L223.0,285.3 L223.6,286.2 L224.6,288.4 L224.7,288.2 L225.6,287.3 L226.0,286.7 L226.6,287.7 L227.5,288.9 L227.6,289.5 L228.4,290.8 L228.6,290.7 L229.6,290.2 L230.6,289.2 L231.3,288.9 L231.6,289.9 L232.6,293.3 L233.5,296.2 L233.6,296.2 L234.6,297.0 L235.0,296.9 L235.6,295.9 L236.6,294.6 L237.6,292.8 L237.9,292.6 L238.6,294.0 L239.5,296.2 L239.6,295.6 L240.6,297.4 L241.0,297.7 L241.6,297.6 L242.6,297.6 L243.0,297.7 L243.6,297.1 L244.6,296.6 L245.6,296.1 L245.9,296.2 L246.6,297.3 L247.5,299.1 L247.6,299.1 L248.6,296.3 L249.6,295.4 L250.6,292.8 L251.0,291.8 L251.6,293.2 L252.6,296.3 L253.6,298.1 L253.9,299.1 L254.6,302.2 L255.4,305.7 L255.6,304.8 L256.6,303.7 L257.3,302.0 L257.6,302.0 L258.6,302.6 L259.0,302.8 L259.6,301.3 L260.6,297.9 L260.8,297.7 L261.6,298.0 L262.6,298.3 L263.0,298.4 L263.6,300.4 L264.6,302.9 L264.9,303.5 L265.6,303.1 L266.6,304.1 L267.0,304.2 L267.6,304.8 L268.6,306.7 L269.1,307.8 L269.6,307.3 L270.6,307.2 L271.0,306.4 L271.6,304.4 L272.6,302.5 L273.0,301.7 L273.6,304.4 L274.5,309.3 L274.6,309.3 L275.6,309.8 L276.0,310.0 L276.6,308.2 L277.6,305.3 L278.6,303.1 L278.9,302.3 L279.6,306.6 L280.0,309.3 L280.6,311.7 L281.4,314.4 L281.6,314.0 L282.6,310.8 L283.0,309.3 L283.6,308.4 L284.6,306.9 L284.7,307.1 L285.6,308.3 L286.6,310.0 L287.0,310.7 L287.6,309.8 L288.6,308.3 L289.1,307.5 L289.6,307.8 L290.6,308.5 L291.0,308.5 L291.6,309.0 L292.6,310.2 L293.5,310.7 L293.6,310.6 L294.6,307.0 L294.9,305.6 L295.6,308.0 L296.4,311.5 L296.6,311.1 L297.6,308.4 L298.6,306.4 L299.6,304.5 L300.0,303.4 L300.6,302.3 L301.6,300.0 L302.2,299.0 L302.6,300.6 L303.6,303.6 L304.4,305.6 L304.6,304.8 L305.6,301.2 L306.6,297.3 L307.6,300.2 L308.0,301.2 L308.6,299.1 L309.4,295.4 L309.6,294.6 L310.6,289.2 L311.1,286.3 L311.6,281.7 L312.3,274.9 L312.6,271.8 L313.4,263.5 L313.6,259.5 L314.0,252.1 L314.5,240.8 L314.6,239.6 L315.3,231.7 L315.6,230.3 L316.5,226.0 L316.6,225.7 L317.6,224.5 L317.9,224.3 L318.6,226.2 L318.8,227.0 L319.4,231.7 L319.6,233.3 L320.6,240.7 L321.1,252.1 L321.6,261.7 L321.7,263.5 L322.3,274.9 L322.6,279.1 L323.1,286.3 L323.6,289.2 L324.2,293.1 L324.6,294.2 L325.6,296.9 L326.5,299.3 L326.6,299.7 L327.0,300.5 L327.6,299.6 L328.6,298.9 L329.2,298.3 L329.6,298.8 L330.6,299.9 L331.0,300.5 L331.6,302.0 L332.6,304.3 L333.3,305.6 L333.6,304.6 L334.6,302.3 L335.6,299.7 L336.5,296.9 L336.6,297.2 L337.6,300.9 L338.6,305.4 L338.7,305.6 L339.6,301.7 L340.6,297.3 L341.6,299.7 L342.6,300.9 L343.0,301.2 L343.6,301.8 L344.6,303.2 L345.0,303.4 L345.6,302.8 L346.6,301.5 L347.6,300.1 L348.6,298.1 L349.6,297.2 L350.4,296.1 L350.6,296.8 L351.6,300.2 L352.0,301.2 L352.6,302.2 L353.6,303.7 L354.6,306.1 L354.8,305.6 L355.6,304.4 L356.6,302.8 L357.0,301.7 L357.6,302.2 L358.6,303.2 L359.0,303.4 L359.6,302.4 L360.6,302.1 L361.0,301.7 L361.6,302.9 L362.0,303.5 L362.6,300.6 L363.6,296.3 L364.6,300.8 L365.0,302.0 L365.6,299.6 L366.5,296.2 L366.6,296.3 L367.6,297.4 L368.0,297.7 L368.6,295.8 L369.0,294.7 L369.6,292.3 L370.6,287.7 L370.9,286.4 L371.6,287.1 L372.6,289.1 L373.0,289.6 L373.6,290.8 L374.6,293.5 L375.6,292.4 L376.6,292.1 L376.8,291.8 L377.6,293.3 L378.5,295.5 L378.6,295.1 L379.0,292.6 L379.6,294.7 L380.6,298.2 L380.9,299.1 L381.6,299.3 L382.6,299.1 L383.0,299.1 L383.6,298.3 L384.6,297.1 L385.5,296.2 L385.6,296.5 L386.6,300.0 L387.0,301.3 L387.6,300.0 L388.6,297.8 L389.0,296.9 L389.6,296.8 L390.6,296.1 L391.0,295.5 L391.6,298.0 L392.4,301.3 L392.6,301.1 L393.6,299.8 L394.6,299.4 L395.6,298.5 L396.0,297.7 L396.6,296.7 L397.2,296.2 L397.6,296.9 L398.6,297.3 L399.6,298.0 L400.0,298.4 L400.6,299.0 L401.6,299.8 L402.6,296.3 L403.0,294.7 L403.6,295.4 L404.6,296.4 L405.0,296.9 L405.6,296.1 L406.6,294.4 L407.4,293.3 L407.6,293.8 L408.6,297.9 L409.6,301.9 L410.6,298.6 L411.0,296.9 L411.6,297.8 L412.6,299.4 L413.0,299.9 L413.6,299.7 L414.6,299.8 L415.6,299.5 L416.0,299.1 L416.6,298.4 L417.6,297.7 L418.4,296.9 L418.6,297.9 L419.6,301.8 L419.9,302.8 L420.6,304.0 L421.6,305.1 L422.0,305.4 L422.6,302.1 L423.6,296.9 L424.5,291.8 L424.6,292.2 L425.6,296.4 L426.4,299.9 L426.6,298.9 L427.6,294.4 L428.6,289.1 L429.3,286.0 L429.6,287.3 L430.6,292.4 L431.5,296.2 L431.6,296.7 L432.6,297.0 L433.0,297.7 L433.6,297.7 L434.6,298.6 L435.6,299.2 L436.6,297.1 L437.0,296.2 L437.6,296.2 L438.6,295.3 L439.6,294.7 L440.0,294.7 L440.6,294.5 L441.6,294.1 L441.8,294.0 L442.6,292.9 L443.3,291.5 L443.6,292.4 L444.2,294.5 L444.6,292.9 L444.9,292.4 L445.6,289.2 L446.6,285.0 L446.9,284.1 L447.6,280.3 L448.6,276.2 L449.6,268.2 L449.7,267.4 L450.6,255.9 L450.8,253.6 L451.6,242.2 L451.8,239.7 L452.6,228.4 L452.8,225.8 L453.6,216.3 L453.9,211.9 L454.6,204.3 L454.9,201.5 L455.6,208.4 L456.0,211.9 L456.6,223.5 L456.7,225.8 L457.4,239.7 L457.6,241.8 L458.1,248.0 L458.6,251.2 L458.8,252.0 L459.6,257.1 L460.1,260.5 L460.6,265.9 L460.8,267.4 L461.5,281.3 L461.6,281.7 L462.5,288.3 L462.6,288.5 L463.6,290.9 L464.6,293.7 L465.0,294.5 L465.6,295.7 L466.6,297.0 L467.5,298.2 L467.6,298.3 L468.6,298.2 L469.0,298.2 L469.6,299.4 L470.6,299.3 L471.6,299.5 L472.6,300.3 L473.6,302.5 L474.0,304.0 L474.6,305.0 L475.6,305.5 L475.9,306.2 L476.6,306.5 L477.6,307.0 L478.0,307.3 L478.6,306.1 L479.6,304.1 L480.6,311.8 L481.4,317.4 L481.6,316.5 L482.6,311.2 L483.1,309.0 L483.6,307.9 L484.6,306.3 L485.0,305.7 L485.6,306.2 L486.6,306.5 L486.7,306.5 L487.6,305.7 L488.6,304.9 L489.6,303.9 L490.0,303.7 L490.6,306.0 L491.0,307.3 L491.6,308.5 L492.6,310.7 L493.6,312.7 L493.8,313.2 L494.6,310.2 L495.0,308.2 L495.6,307.6 L496.6,307.4 L496.8,307.3 L497.6,304.2 L498.6,300.2 L498.8,299.8 L499.6,304.1 L500.4,307.7 L500.6,307.9 L501.6,305.6 L502.6,304.3 L502.7,303.9 L503.6,300.5 L504.5,297.5 L504.6,297.3 L505.6,297.4 L506.4,297.5 L506.6,297.3 L507.6,293.0 L508.0,291.8 L508.6,288.3 L509.5,282.7 L509.6,282.3 L510.6,277.6 L511.4,273.6 L511.6,273.1 L512.6,271.4 L513.6,269.8 L514.6,273.6 L515.2,275.2 L515.6,280.4 L515.9,285.0 L516.6,293.2 L517.0,297.1 L517.6,297.5 L518.6,298.7 L519.6,301.5 L520.5,303.9 L520.6,304.9 L521.6,307.9 L522.0,310.0 L522.6,311.3 L523.6,314.8 L524.6,317.6 L525.6,314.8 L526.5,312.3 L526.6,313.0 L527.6,315.1 L528.5,317.4 L528.6,317.2 L529.6,317.8 L530.0,318.2 L530.6,318.5 L531.6,319.7 L531.8,319.9 L532.6,318.1 L533.6,315.5 L534.0,314.9 L534.6,313.8 L535.6,312.1 L536.5,310.5 L536.6,311.1 L537.6,315.8 L537.9,317.2 L538.6,316.3 L539.6,315.9 L540.0,315.8 L540.6,316.5 L541.6,318.3 L542.0,318.7 L542.6,323.9 L543.6,320.7 L544.6,318.3 L545.0,317.2 L545.6,312.6 L545.7,311.4 L546.6,313.6 L547.6,315.8 L548.0,316.5 L548.4,319.4 L548.6,319.6 L549.6,317.6 L550.6,315.7 L551.0,315.0 L551.6,313.1 L552.5,310.7 L552.6,311.1 L553.6,314.1 L554.0,315.8 L554.6,316.7 L555.4,317.2 L555.6,317.1 L556.6,315.5 L557.0,315.0 L557.6,314.5 L558.6,314.0 L559.1,313.6 L559.6,314.7 L560.5,317.2 L560.6,316.3 L561.6,311.0 L562.0,309.2 L562.6,308.1 L563.5,306.3 L563.6,306.4 L564.6,307.6 L564.9,307.7 L565.6,306.8 L566.6,305.6 L567.6,304.9 L568.3,304.1 L568.6,304.7 L569.6,309.6 L569.7,309.9 L570.6,316.4 L570.8,318.0 L571.6,318.7 L572.6,318.3 L573.0,319.1 L573.6,318.5 L574.6,318.5 L575.0,318.2 L575.6,317.6 L576.3,317.2 L576.6,318.2 L577.5,320.9 L577.6,321.5 L578.1,326.0 L578.6,324.1 L579.6,320.7 L580.3,318.2 L580.6,318.8 L581.6,322.2 L581.7,322.3 L582.6,324.8 L583.0,326.0 L583.6,325.6 L584.6,323.5 L585.6,324.3 L586.6,325.0 L587.6,325.5 L588.0,325.8 L588.6,326.2 L589.6,326.7 L590.0,326.5 L590.6,326.8 L591.6,327.1 L592.3,327.2 L592.6,326.7 L593.6,325.1 L594.6,323.0 L595.5,321.4 L595.6,321.7 L596.5,325.0 L596.6,324.5 L597.6,322.6 L598.4,320.7 L598.6,321.3 L599.6,325.6 L600.3,328.2 L600.6,327.6 L601.6,326.0 L602.0,325.0 L602.6,324.9 L603.6,325.3 L604.5,325.0 L604.6,324.5 L605.4,321.4 L605.6,321.5 L606.6,320.3 L607.6,319.4 L608.6,318.6 L609.5,317.7 L609.6,318.0 L610.6,320.1 L611.6,321.5 L612.0,322.4 L612.6,322.2 L613.6,321.7 L614.0,321.4 L614.6,319.8 L615.6,317.0 L616.6,315.1 L616.8,314.5 L617.6,315.6 L618.5,317.0 L618.6,316.9 L619.6,316.3 L620.5,316.3 L620.6,316.5 L621.6,315.7 L622.2,315.1 L622.6,316.6 L623.6,319.6 L624.1,320.7 L624.6,321.2 L625.6,321.4 L626.6,322.7 L627.3,322.8 L627.6,322.4 L628.6,320.6 L629.5,319.2 L629.6,319.5 L630.5,321.4 L630.6,321.0 L631.6,320.1 L632.6,318.8 L632.9,318.5 L633.6,322.1 L634.6,327.1 L635.6,325.5 L636.0,325.0 L636.6,324.9 L637.6,324.4 L638.6,324.7 L639.6,324.4 L640.5,324.3 L640.6,324.2 L641.6,323.5 L642.6,322.4 L642.7,322.4 L643.6,323.2 L644.6,324.4 L645.0,324.3 L645.6,323.6 L646.6,323.0 L647.6,321.6 L648.5,320.7 L648.6,320.5 L649.6,323.4 L650.5,325.0 L650.6,324.9 L651.6,324.6 L652.6,324.7 L653.0,324.3 L653.6,324.8 L654.6,325.0 L655.6,325.6 L655.8,325.8 L656.6,324.8 L657.6,323.5 L658.6,322.2 L659.5,321.4 L659.6,321.6 L660.6,323.6 L661.4,325.8 L661.6,325.6 L662.6,323.8 L663.6,322.5 L664.0,322.1 L664.6,321.4 L665.6,320.9 L666.6,320.2 L666.8,319.9 L667.6,317.9 L668.6,315.5 L669.2,314.1 L669.6,316.1 L670.6,319.0 L671.1,320.7 L671.6,322.8 L672.6,325.7 L673.6,324.1 L674.6,322.2 L674.8,322.1 L675.6,322.7 L676.6,323.1 L677.0,323.6" stroke="#5e5ec0" stroke-width="1.05" fill="none" stroke-linejoin="round"/><text x="-0.3" y="438.2" font-family="Liberation Serif" font-weight="bold" font-size="33.5" fill="#000">C</text><path d="M18.4,427.5 L23.5,427.5 L23.5,433.4 L18.4,434.2 Z" fill="#fff"/><path d="M74.5,401.6 H680.8 V573.4 M74.5,573.4 H680.8" stroke="#8c8c8c" stroke-width="1.6" fill="none"/><path d="M74.5,556.2 H80.5 M74.5,539.0 H80.5 M74.5,521.9 H80.5 M74.5,504.7 H80.5 M74.5,487.5 H80.5 M74.5,470.3 H80.5 M74.5,453.1 H80.5 M74.5,436.0 H80.5 M74.5,418.8 H80.5 " stroke="#8a8a8a" stroke-width="1" fill="none"/><path d="M78.6,571.7 H80.5 M78.6,570.0 H80.5 M78.6,568.2 H80.5 M78.6,566.5 H80.5 M78.6,564.8 H80.5 M78.6,563.1 H80.5 M78.6,561.4 H80.5 M78.6,559.7 H80.5 M78.6,557.9 H80.5 M78.6,556.2 H80.5 M78.6,554.5 H80.5 M78.6,552.8 H80.5 M78.6,551.1 H80.5 M78.6,549.3 H80.5 M78.6,547.6 H80.5 M78.6,545.9 H80.5 M78.6,544.2 H80.5 M78.6,542.5 H80.5 M78.6,540.8 H80.5 M78.6,539.0 H80.5 M78.6,537.3 H80.5 M78.6,535.6 H80.5 M78.6,533.9 H80.5 M78.6,532.2 H80.5 M78.6,530.5 H80.5 M78.6,528.7 H80.5 M78.6,527.0 H80.5 M78.6,525.3 H80.5 M78.6,523.6 H80.5 M78.6,521.9 H80.5 M78.6,520.1 H80.5 M78.6,518.4 H80.5 M78.6,516.7 H80.5 M78.6,515.0 H80.5 M78.6,513.3 H80.5 M78.6,511.6 H80.5 M78.6,509.8 H80.5 M78.6,508.1 H80.5 M78.6,506.4 H80.5 M78.6,504.7 H80.5 M78.6,503.0 H80.5 M78.6,501.2 H80.5 M78.6,499.5 H80.5 M78.6,497.8 H80.5 M78.6,496.1 H80.5 M78.6,494.4 H80.5 M78.6,492.7 H80.5 M78.6,490.9 H80.5 M78.6,489.2 H80.5 M78.6,487.5 H80.5 M78.6,485.8 H80.5 M78.6,484.1 H80.5 M78.6,482.3 H80.5 M78.6,480.6 H80.5 M78.6,478.9 H80.5 M78.6,477.2 H80.5 M78.6,475.5 H80.5 M78.6,473.8 H80.5 M78.6,472.0 H80.5 M78.6,470.3 H80.5 M78.6,468.6 H80.5 M78.6,466.9 H80.5 M78.6,465.2 H80.5 M78.6,463.4 H80.5 M78.6,461.7 H80.5 M78.6,460.0 H80.5 M78.6,458.3 H80.5 M78.6,456.6 H80.5 M78.6,454.9 H80.5 M78.6,453.1 H80.5 M78.6,451.4 H80.5 M78.6,449.7 H80.5 M78.6,448.0 H80.5 M78.6,446.3 H80.5 M78.6,444.6 H80.5 M78.6,442.8 H80.5 M78.6,441.1 H80.5 M78.6,439.4 H80.5 M78.6,437.7 H80.5 M78.6,436.0 H80.5 M78.6,434.2 H80.5 M78.6,432.5 H80.5 M78.6,430.8 H80.5 M78.6,429.1 H80.5 M78.6,427.4 H80.5 M78.6,425.7 H80.5 M78.6,423.9 H80.5 M78.6,422.2 H80.5 M78.6,420.5 H80.5 M78.6,418.8 H80.5 M78.6,417.1 H80.5 M78.6,415.3 H80.5 M78.6,413.6 H80.5 M78.6,411.9 H80.5 M78.6,410.2 H80.5 M78.6,408.5 H80.5 M78.6,406.8 H80.5 M78.6,405.0 H80.5 M78.6,403.3 H80.5 " stroke="#9a9a9a" stroke-width="0.7" fill="none"/><path d="M80.5,401.0 V576.4" stroke="#48484e" stroke-width="1.6" fill="none"/><text x="64.9" y="578.7" text-anchor="end" font-family="Liberation Mono" font-weight="bold" font-size="5.8" fill="#4a4a4a">0</text><text x="64.9" y="561.5" text-anchor="end" font-family="Liberation Mono" font-weight="bold" font-size="5.8" fill="#4a4a4a">427</text><text x="64.9" y="544.3" text-anchor="end" font-family="Liberation Mono" font-weight="bold" font-size="5.8" fill="#4a4a4a">854</text><text x="64.9" y="527.2" text-anchor="end" font-family="Liberation Mono" font-weight="bold" font-size="5.8" fill="#4a4a4a">1281</text><text x="64.9" y="510.0" text-anchor="end" font-family="Liberation Mono" font-weight="bold" font-size="5.8" fill="#4a4a4a">1708</text><text x="64.9" y="492.8" text-anchor="end" font-family="Liberation Mono" font-weight="bold" font-size="5.8" fill="#4a4a4a">2135</text><text x="64.9" y="475.6" text-anchor="end" font-family="Liberation Mono" font-weight="bold" font-size="5.8" fill="#4a4a4a">2562</text><text x="64.9" y="458.4" text-anchor="end" font-family="Liberation Mono" font-weight="bold" font-size="5.8" fill="#4a4a4a">2989</text><text x="64.9" y="441.3" text-anchor="end" font-family="Liberation Mono" font-weight="bold" font-size="5.8" fill="#4a4a4a">3416</text><text x="64.9" y="424.1" text-anchor="end" font-family="Liberation Mono" font-weight="bold" font-size="5.8" fill="#4a4a4a">3843</text><text x="64.9" y="406.9" text-anchor="end" font-family="Liberation Mono" font-weight="bold" font-size="5.8" fill="#4a4a4a">4270</text><path d="M129.1,573.4 V576.4 M179.4,573.4 V576.4 M229.7,573.4 V576.4 M279.9,573.4 V576.4 M330.2,573.4 V576.4 M380.5,573.4 V576.4 M430.8,573.4 V576.4 M481.0,573.4 V576.4 M531.3,573.4 V576.4 M581.6,573.4 V576.4 M631.9,573.4 V576.4 " stroke="#444" stroke-width="1" fill="none"/><path d="M88.2,576.0 H89.6 M98.3,576.0 H99.7 M108.3,576.0 H109.7 M118.4,576.0 H119.8 M138.5,576.0 H139.9 M148.5,576.0 H149.9 M158.6,576.0 H160.0 M168.6,576.0 H170.0 M188.8,576.0 H190.2 M198.8,576.0 H200.2 M208.9,576.0 H210.3 M218.9,576.0 H220.3 M239.0,576.0 H240.4 M249.1,576.0 H250.5 M259.1,576.0 H260.5 M269.2,576.0 H270.6 M289.3,576.0 H290.7 M299.4,576.0 H300.8 M309.4,576.0 H310.8 M319.5,576.0 H320.9 M339.6,576.0 H341.0 M349.6,576.0 H351.0 M359.7,576.0 H361.1 M369.7,576.0 H371.1 M389.9,576.0 H391.3 M399.9,576.0 H401.3 M410.0,576.0 H411.4 M420.0,576.0 H421.4 M440.1,576.0 H441.5 M450.2,576.0 H451.6 M460.2,576.0 H461.6 M470.3,576.0 H471.7 M490.4,576.0 H491.8 M500.5,576.0 H501.9 M510.5,576.0 H511.9 M520.6,576.0 H522.0 M540.7,576.0 H542.1 M550.7,576.0 H552.1 M560.8,576.0 H562.2 M570.8,576.0 H572.2 M591.0,576.0 H592.4 M601.0,576.0 H602.4 M611.1,576.0 H612.5 M621.1,576.0 H622.5 M641.2,576.0 H642.6 M651.3,576.0 H652.7 M661.3,576.0 H662.7 M671.4,576.0 H672.8 " stroke="#666" stroke-width="1" fill="none"/><text x="179.4" y="581.9" text-anchor="middle" font-family="Liberation Mono" font-weight="bold" font-size="5.8" fill="#4a4a4a">20</text><text x="279.9" y="581.9" text-anchor="middle" font-family="Liberation Mono" font-weight="bold" font-size="5.8" fill="#4a4a4a">30</text><text x="380.5" y="581.9" text-anchor="middle" font-family="Liberation Mono" font-weight="bold" font-size="5.8" fill="#4a4a4a">40</text><text x="481.0" y="581.9" text-anchor="middle" font-family="Liberation Mono" font-weight="bold" font-size="5.8" fill="#4a4a4a">50</text><text x="581.6" y="581.9" text-anchor="middle" font-family="Liberation Mono" font-weight="bold" font-size="5.8" fill="#4a4a4a">60</text><text x="356.3" y="585.9" font-family="Liberation Mono" font-weight="bold" font-size="5.8" fill="#181848">GA_DICL_PM.ASC</text><text x="548.0" y="585.9" font-family="Liberation Mono" font-weight="bold" font-size="5.8" fill="#4a4ab8">XPowder Ver. 2004.04.56 PRO</text><path d="M80.8,526.4 L80.9,500.0 L81.0,472.2 L81.8,474.6 L82.1,475.5 L82.8,472.6 L83.7,469.0 L83.8,468.5 L84.8,465.2 L85.0,464.0 L85.8,463.2 L86.2,462.4 L86.8,458.8 L87.5,454.2 L87.8,456.0 L88.7,460.8 L88.8,460.5 L89.8,461.6 L90.3,461.6 L90.8,455.8 L91.8,444.9 L92.0,442.7 L92.8,439.0 L93.8,433.1 L94.4,430.4 L94.8,432.9 L95.6,439.4 L95.8,439.7 L96.4,441.9 L96.8,448.0 L97.7,459.9 L97.8,460.1 L98.5,461.6 L98.8,460.7 L99.8,456.4 L100.2,455.0 L100.8,457.7 L101.8,463.9 L102.3,466.5 L102.8,463.0 L103.5,457.5 L103.8,455.3 L104.8,448.6 L105.8,452.9 L106.2,455.0 L106.8,452.7 L107.8,448.7 L108.4,446.0 L108.8,447.8 L109.8,453.0 L110.0,454.2 L110.8,453.2 L111.8,451.6 L112.2,451.7 L112.8,455.5 L113.8,461.5 L114.8,462.9 L115.0,463.2 L115.8,461.5 L116.6,459.9 L116.8,461.4 L117.8,471.8 L117.9,473.1 L118.8,468.3 L119.4,465.7 L119.8,466.8 L120.8,468.5 L121.0,469.0 L121.8,468.4 L122.8,468.4 L123.2,468.1 L123.8,465.7 L124.8,462.5 L125.3,460.8 L125.8,463.9 L126.8,470.1 L127.8,476.2 L128.4,480.5 L128.8,478.5 L129.8,474.0 L130.2,472.2 L130.8,462.6 L131.4,452.5 L131.8,448.6 L132.8,439.8 L133.5,433.7 L133.8,434.3 L134.8,436.4 L135.0,436.9 L135.8,444.3 L136.3,449.3 L136.8,458.6 L137.4,469.0 L137.8,473.8 L138.8,485.8 L139.8,486.7 L140.4,487.0 L140.8,483.8 L141.7,475.5 L141.8,474.5 L142.5,466.5 L142.8,466.2 L143.7,467.3 L143.8,466.5 L144.8,457.0 L145.8,465.3 L146.6,472.2 L146.8,473.7 L147.8,481.3 L148.3,485.4 L148.8,483.4 L149.8,480.6 L150.2,478.8 L150.8,470.5 L151.3,464.0 L151.8,457.2 L152.5,449.3 L152.8,442.5 L153.6,424.6 L153.8,422.9 L154.8,415.6 L155.3,412.3 L155.8,414.5 L156.3,416.4 L156.8,429.3 L156.9,432.8 L157.8,455.1 L157.9,457.5 L158.8,452.0 L159.0,450.9 L159.8,453.9 L160.2,455.8 L160.8,454.1 L161.2,453.4 L161.8,460.0 L162.3,465.7 L162.8,469.7 L163.8,475.9 L164.0,477.2 L164.8,483.0 L165.6,488.7 L165.8,488.1 L166.7,483.7 L166.8,483.4 L167.7,479.6 L167.8,480.1 L168.8,483.9 L168.9,484.6 L169.8,480.6 L170.5,478.0 L170.8,478.6 L171.7,480.5 L171.8,480.0 L172.8,477.0 L173.0,476.4 L173.8,478.0 L174.0,478.8 L174.8,476.6 L175.5,473.9 L175.8,473.7 L176.8,472.3 L177.1,472.2 L177.8,474.2 L178.5,476.4 L178.8,477.7 L179.8,481.4 L180.0,482.1 L180.8,473.2 L181.2,469.0 L181.8,452.6 L182.0,447.6 L182.8,442.7 L183.3,439.4 L183.8,441.6 L184.5,444.3 L184.8,447.6 L185.6,455.8 L185.8,458.4 L186.8,468.4 L186.9,469.8 L187.8,470.5 L188.6,470.6 L188.8,470.3 L189.4,470.6 L189.8,474.2 L190.7,482.1 L190.8,481.5 L191.8,476.2 L192.4,473.9 L192.8,472.2 L193.8,467.5 L194.3,464.9 L194.8,468.2 L195.5,473.9 L195.8,476.9 L196.5,482.9 L196.8,480.6 L197.6,472.2 L197.8,471.0 L198.8,467.3 L199.8,470.1 L200.1,470.6 L200.8,472.9 L201.7,475.5 L201.8,476.5 L202.8,478.4 L203.4,479.6 L203.8,480.4 L204.2,480.5 L204.8,476.7 L205.5,472.2 L205.8,471.6 L206.7,470.6 L206.8,470.8 L207.8,476.6 L208.8,470.1 L209.1,468.1 L209.8,467.2 L210.3,465.7 L210.8,464.7 L211.6,460.8 L211.8,460.4 L212.8,456.5 L212.9,455.8 L213.8,440.8 L214.0,437.8 L214.8,428.8 L214.9,427.9 L215.8,424.1 L216.5,421.3 L216.8,420.4 L217.7,419.7 L217.8,419.9 L218.6,418.9 L218.8,413.3 L219.2,402.0 L219.8,416.6 L220.6,432.8 L220.8,435.0 L221.8,446.2 L222.8,450.6 L223.1,452.5 L223.8,450.5 L224.0,450.9 L224.7,456.7 L224.8,456.6 L225.8,458.7 L225.9,459.1 L226.8,466.6 L227.2,469.0 L227.8,471.6 L228.8,476.1 L229.8,479.7 L229.9,480.5 L230.8,476.1 L231.8,471.2 L231.9,470.6 L232.8,467.6 L233.5,464.0 L233.8,462.9 L234.8,459.1 L235.2,457.5 L235.8,462.2 L236.8,469.0 L237.8,475.3 L238.6,480.5 L238.8,480.5 L239.8,477.9 L240.1,477.2 L240.8,473.5 L241.7,467.3 L241.8,466.6 L242.8,459.1 L243.4,454.2 L243.8,459.8 L244.2,465.7 L244.8,476.8 L245.0,480.5 L245.8,479.4 L246.3,478.8 L246.8,480.0 L247.2,481.3 L247.8,477.3 L248.3,473.9 L248.8,472.4 L249.6,469.0 L249.8,467.8 L250.8,462.3 L251.8,452.5 L252.1,449.3 L252.8,434.6 L252.9,432.8 L253.8,420.3 L254.1,416.4 L254.8,408.5 L254.9,407.4 L255.8,415.4 L255.9,416.4 L256.8,429.8 L257.0,432.8 L257.8,446.1 L258.7,448.4 L258.8,448.1 L259.8,449.3 L260.6,441.0 L260.8,437.1 L261.5,424.6 L261.8,423.9 L262.0,423.8 L262.8,428.3 L263.1,429.6 L263.8,430.3 L263.9,431.2 L264.8,439.4 L264.9,441.0 L265.8,454.2 L266.0,457.5 L266.8,469.9 L266.9,470.6 L267.7,483.7 L267.8,483.0 L268.5,477.2 L268.8,473.6 L269.0,470.6 L269.7,476.4 L269.8,476.2 L270.6,469.0 L270.8,468.2 L271.8,462.1 L272.8,466.4 L273.0,467.3 L273.8,462.5 L274.6,458.3 L274.8,459.7 L275.6,465.7 L275.8,467.7 L276.7,477.2 L276.8,477.3 L277.8,480.3 L278.4,482.1 L278.8,484.8 L279.7,488.7 L279.8,488.9 L280.8,490.0 L281.6,491.1 L281.8,492.2 L282.8,494.3 L283.8,497.1 L284.8,494.8 L285.8,492.2 L286.8,490.6 L287.1,489.5 L287.8,492.5 L288.2,494.4 L288.8,493.0 L289.8,491.3 L289.9,491.1 L290.8,492.1 L291.5,492.8 L291.8,492.7 L292.8,494.1 L293.1,494.4 L293.8,493.9 L294.8,493.8 L295.8,496.6 L296.4,498.5 L296.8,499.8 L297.7,501.8 L297.8,502.0 L298.8,504.6 L299.7,507.6 L299.8,507.5 L300.8,507.2 L301.4,506.7 L301.8,507.0 L302.0,507.4 L302.8,504.6 L303.6,502.3 L303.8,501.8 L304.8,498.6 L305.1,497.2 L305.8,496.1 L306.5,495.8 L306.8,496.6 L307.3,498.7 L307.8,496.9 L308.8,494.3 L309.0,494.3 L309.8,488.5 L310.2,485.5 L310.8,486.2 L311.0,486.3 L311.8,477.4 L312.0,475.3 L312.8,486.4 L313.8,489.7 L314.6,493.6 L314.8,493.4 L315.8,492.7 L316.1,492.8 L316.8,489.5 L317.5,485.5 L317.8,483.0 L318.7,480.4 L318.8,480.7 L319.8,483.1 L320.1,483.4 L320.8,482.7 L321.6,481.2 L321.8,482.7 L322.6,487.0 L322.8,486.4 L323.8,485.3 L324.1,485.5 L324.8,487.6 L325.5,489.2 L325.8,491.6 L326.8,497.9 L327.0,499.4 L327.8,501.0 L328.8,501.6 L328.9,501.6 L329.8,505.0 L329.9,505.3 L330.8,503.3 L331.4,502.3 L331.8,501.3 L332.8,499.8 L333.8,501.6 L334.3,501.6 L334.6,495.8 L334.8,496.0 L335.8,500.4 L336.8,501.4 L337.2,501.6 L337.8,503.4 L338.8,506.6 L339.4,508.9 L339.8,509.5 L340.8,511.5 L340.9,510.4 L341.8,508.4 L342.3,506.7 L342.6,514.7 L342.8,514.1 L343.8,507.3 L344.8,509.5 L345.3,511.1 L345.8,511.1 L346.7,512.6 L346.8,512.5 L347.8,514.3 L348.2,515.5 L348.8,515.4 L349.6,517.7 L349.8,516.4 L350.4,511.1 L350.8,506.0 L351.1,502.3 L351.8,507.2 L352.8,501.0 L353.7,504.5 L353.8,503.3 L354.7,498.7 L354.8,499.1 L355.8,502.3 L355.9,503.8 L356.8,496.8 L357.2,495.0 L357.8,499.5 L358.1,501.6 L358.8,494.6 L359.1,490.7 L359.8,493.7 L359.9,494.3 L360.3,501.6 L360.8,497.1 L361.3,493.6 L361.8,493.0 L362.8,494.6 L363.8,497.2 L364.2,498.7 L364.8,500.5 L365.7,503.1 L365.8,504.4 L366.8,509.7 L366.9,510.4 L367.8,503.9 L367.9,503.1 L368.8,506.6 L369.8,509.0 L370.8,503.7 L371.2,501.6 L371.8,505.0 L372.8,509.5 L373.0,510.4 L373.7,506.7 L373.8,504.9 L374.5,499.4 L374.8,500.7 L375.6,503.8 L375.8,504.9 L376.8,510.4 L376.9,511.1 L377.8,512.1 L378.8,512.6 L379.8,512.9 L380.8,514.4 L381.0,514.0 L381.8,515.4 L382.8,516.5 L383.2,517.7 L383.8,520.1 L384.4,520.6 L384.8,520.1 L385.8,517.5 L386.4,517.7 L386.8,517.1 L387.8,515.5 L388.3,515.5 L388.8,515.7 L389.8,514.4 L390.8,508.9 L391.5,500.9 L391.8,499.8 L392.7,490.7 L392.8,491.3 L393.8,495.6 L394.2,497.2 L394.8,496.5 L395.6,496.5 L395.8,497.1 L396.8,499.6 L397.2,499.2 L397.8,505.6 L398.6,512.3 L398.8,511.0 L399.8,507.9 L400.1,505.0 L400.8,504.0 L401.5,504.3 L401.8,504.1 L402.8,498.2 L403.0,497.7 L403.8,502.4 L404.5,508.0 L404.8,510.3 L405.8,518.2 L405.9,520.4 L406.8,515.2 L407.4,512.3 L407.8,512.5 L408.8,508.6 L409.6,505.8 L409.8,505.9 L410.8,507.0 L411.8,509.8 L412.2,511.6 L412.8,507.8 L413.7,502.1 L413.8,502.7 L414.8,503.7 L415.1,505.0 L415.8,505.3 L416.8,507.5 L416.9,508.0 L417.8,505.4 L418.4,502.8 L418.8,501.8 L419.8,499.7 L420.5,499.2 L420.8,499.7 L421.8,506.0 L422.0,508.0 L422.7,516.0 L422.8,516.5 L423.8,511.6 L424.2,510.1 L424.8,511.9 L425.7,514.5 L425.8,515.2 L426.8,515.4 L427.8,515.6 L428.8,516.0 L429.8,513.8 L430.0,513.1 L430.8,512.3 L431.5,511.6 L431.8,510.7 L432.8,509.2 L433.2,508.7 L433.8,508.9 L434.8,503.9 L435.8,501.7 L435.9,500.7 L436.8,503.0 L437.3,505.0 L437.8,504.8 L438.5,504.3 L438.8,506.0 L439.5,510.1 L439.8,509.8 L440.8,512.5 L441.0,513.8 L441.8,517.1 L442.8,518.6 L443.2,520.4 L443.8,518.1 L444.8,513.3 L444.9,512.3 L445.8,514.9 L446.4,514.5 L446.8,516.4 L447.3,518.9 L447.8,521.8 L448.7,525.5 L448.8,524.3 L449.8,521.2 L450.2,521.1 L450.8,519.1 L451.2,518.2 L451.8,517.5 L452.7,515.3 L452.8,514.5 L453.8,512.9 L454.6,509.4 L454.8,511.0 L455.8,513.6 L456.0,513.8 L456.8,512.1 L457.8,511.6 L458.8,508.3 L459.8,506.4 L460.0,506.5 L460.8,509.1 L461.4,510.9 L461.8,513.1 L462.8,514.9 L462.9,513.8 L463.8,516.2 L464.3,516.0 L464.8,517.6 L465.1,518.9 L465.8,517.3 L466.5,514.5 L466.8,513.7 L467.8,515.8 L468.0,517.4 L468.8,516.6 L469.5,515.3 L469.8,514.9 L470.8,514.2 L471.0,516.0 L471.6,519.6 L471.8,519.7 L472.8,524.5 L473.1,525.5 L473.8,523.2 L474.6,521.1 L474.8,523.6 L475.3,525.5 L475.8,519.5 L476.0,516.0 L476.8,516.9 L477.8,525.4 L477.9,524.0 L478.8,528.5 L479.4,529.9 L479.8,527.6 L480.8,525.6 L481.8,528.7 L481.9,529.1 L482.8,523.8 L483.8,522.9 L484.8,526.2 L485.2,524.7 L485.8,526.8 L486.8,527.6 L487.0,527.7 L487.8,527.5 L488.8,530.2 L489.2,529.1 L489.8,527.7 L490.6,525.5 L490.8,527.0 L491.5,529.2 L491.8,529.5 L492.8,525.0 L493.2,523.4 L493.8,528.8 L494.8,534.6 L495.1,535.8 L495.8,530.0 L496.1,527.0 L496.8,528.7 L497.3,531.4 L497.8,532.0 L498.8,530.3 L499.5,529.2 L499.8,526.6 L500.8,527.7 L501.0,528.5 L501.8,529.0 L502.8,527.0 L503.8,523.5 L504.3,523.4 L504.8,526.0 L505.3,528.5 L505.8,530.8 L506.8,530.1 L507.2,529.9 L507.8,528.8 L508.2,529.2 L508.8,523.0 L509.3,520.4 L509.8,524.3 L510.4,529.2 L510.8,529.9 L511.8,534.8 L511.9,535.0 L512.8,533.3 L513.4,533.6 L513.8,531.4 L514.8,532.2 L515.1,532.1 L515.8,532.7 L516.8,529.2 L517.0,530.7 L517.8,527.0 L518.8,525.7 L518.9,527.0 L519.8,531.2 L520.7,534.3 L520.8,534.8 L521.8,531.5 L522.4,530.7 L522.8,533.0 L523.8,534.6 L523.9,533.6 L524.8,535.6 L525.0,535.8 L525.8,536.3 L526.8,537.1 L527.8,532.2 L528.2,532.1 L528.8,532.1 L529.7,528.5 L529.8,528.6 L530.8,529.8 L531.3,530.7 L531.8,533.1 L532.8,533.4 L533.1,535.0 L533.8,536.4 L534.8,537.3 L535.8,534.2 L536.4,531.4 L536.8,529.5 L537.8,529.0 L537.9,529.2 L538.8,527.8 L539.6,528.5 L539.8,528.9 L540.8,530.7 L541.1,530.7 L541.8,533.4 L542.3,533.6 L542.8,532.6 L543.3,531.4 L543.8,532.4 L544.7,532.8 L544.8,532.7 L545.8,534.4 L546.2,534.3 L546.8,532.9 L547.7,533.6 L547.8,534.1 L548.8,536.2 L549.1,536.5 L549.8,538.7 L550.1,537.2 L550.8,533.1 L551.6,532.8 L551.8,531.3 L552.8,529.6 L553.1,528.5 L553.8,530.0 L554.2,531.4 L554.8,533.1 L555.3,535.0 L555.8,534.4 L556.7,534.3 L556.8,534.8 L557.8,532.2 L558.2,532.1 L558.8,535.1 L559.6,535.0 L559.8,534.2 L560.8,532.9 L561.8,532.5 L562.3,530.7 L562.8,532.2 L563.7,532.8 L563.8,533.3 L564.7,529.9 L564.8,531.1 L565.8,533.9 L565.9,535.0 L566.8,533.1 L567.4,531.4 L567.8,530.3 L568.8,534.1 L569.6,534.3 L569.8,534.6 L570.8,537.5 L571.0,538.7 L571.8,538.1 L572.5,535.8 L572.8,536.2 L573.8,532.7 L573.9,533.6 L574.8,536.7 L575.4,537.2 L575.8,537.5 L576.8,538.0 L576.9,535.8 L577.8,536.5 L578.3,538.0 L578.8,537.8 L579.8,535.8 L580.0,536.5 L580.8,537.9 L581.2,539.4 L581.8,539.0 L582.7,537.2 L582.8,537.2 L583.8,537.7 L584.6,538.0 L584.8,537.5 L585.8,539.8 L586.4,542.3 L586.8,541.0 L587.8,540.3 L588.1,538.7 L588.8,540.0 L589.8,539.9 L590.1,539.9 L590.8,540.1 L591.8,540.0 L592.3,540.7 L592.8,541.2 L593.8,540.2 L594.8,540.1 L594.9,541.4 L595.8,542.2 L596.8,543.4 L597.0,543.6 L597.8,541.1 L598.8,540.8 L598.9,539.9 L599.8,539.2 L600.3,538.5 L600.8,537.8 L601.8,543.2 L602.8,542.3 L603.2,542.8 L603.8,542.4 L604.8,541.2 L605.1,541.4 L605.8,540.6 L606.8,538.6 L606.9,539.2 L607.8,539.2 L608.4,537.0 L608.8,538.4 L609.8,541.0 L610.8,536.8 L611.0,537.0 L611.8,540.7 L612.4,544.3 L612.8,543.7 L613.8,539.6 L613.9,537.7 L614.8,540.0 L615.4,540.7 L615.8,538.1 L616.8,535.5 L617.8,538.9 L618.3,541.4 L618.8,538.1 L619.3,533.4 L619.8,537.1 L620.3,539.2 L620.8,540.2 L621.2,542.1 L621.8,539.4 L622.7,535.5 L622.8,537.2 L623.8,538.0 L624.1,538.5 L624.8,536.8 L625.8,535.7 L625.9,534.1 L626.8,537.9 L627.3,539.9 L627.8,539.4 L628.8,538.1 L629.8,538.8 L630.3,539.2 L630.8,538.5 L631.4,537.0 L631.8,538.9 L632.8,541.4 L633.2,545.0 L633.8,544.0 L634.6,541.4 L634.8,541.4 L635.8,540.3 L636.4,539.9 L636.8,540.0 L637.8,537.4 L638.8,534.9 L639.8,536.2 L640.2,535.5 L640.8,539.0 L641.8,545.4 L641.9,545.0 L642.8,542.9 L643.4,545.8 L643.8,544.8 L644.8,544.4 L644.9,543.6 L645.8,543.4 L646.8,542.7 L647.5,540.7 L647.8,539.9 L648.8,542.6 L649.2,543.6 L649.8,543.3 L650.8,543.3 L651.4,542.8 L651.8,541.2 L652.8,542.4 L653.3,540.7 L653.8,540.7 L654.8,537.9 L655.8,540.8 L656.5,542.1 L656.8,542.7 L657.8,539.2 L658.0,539.9 L658.8,541.6 L659.5,542.8 L659.8,544.6 L660.8,545.3 L661.2,546.5 L661.8,545.1 L662.7,541.4 L662.8,541.3 L663.8,538.9 L664.1,537.0 L664.8,536.1 L665.0,536.3 L665.8,538.1 L666.8,541.4 L667.8,541.9 L667.9,542.8 L668.8,542.9 L669.7,540.7 L669.8,542.8 L670.8,540.7 L671.8,542.3 L671.9,541.4 L672.8,542.3 L673.8,541.3 L674.0,541.4 L674.8,543.1 L675.8,542.0 L676.7,544.3 L676.8,543.7 L677.8,545.4 L678.4,543.6 L678.8,543.2 L679.8,540.9 L679.9,539.9" stroke="#48486e" stroke-width="1.1" fill="none" stroke-linejoin="round"/><text x="0.3" y="639.0" font-family="Liberation Serif" font-weight="bold" font-size="32" fill="#000">D</text><path d="M68.6,602.3 H675.4 V774.2 M68.6,774.2 H675.4" stroke="#8c8c8c" stroke-width="1.6" fill="none"/><path d="M68.6,757.0 H74.6 M68.6,739.8 H74.6 M68.6,722.6 H74.6 M68.6,705.4 H74.6 M68.6,688.2 H74.6 M68.6,671.1 H74.6 M68.6,653.9 H74.6 M68.6,636.7 H74.6 M68.6,619.5 H74.6 " stroke="#8a8a8a" stroke-width="1" fill="none"/><path d="M72.7,772.5 H74.6 M72.7,770.8 H74.6 M72.7,769.0 H74.6 M72.7,767.3 H74.6 M72.7,765.6 H74.6 M72.7,763.9 H74.6 M72.7,762.2 H74.6 M72.7,760.4 H74.6 M72.7,758.7 H74.6 M72.7,757.0 H74.6 M72.7,755.3 H74.6 M72.7,753.6 H74.6 M72.7,751.9 H74.6 M72.7,750.1 H74.6 M72.7,748.4 H74.6 M72.7,746.7 H74.6 M72.7,745.0 H74.6 M72.7,743.3 H74.6 M72.7,741.5 H74.6 M72.7,739.8 H74.6 M72.7,738.1 H74.6 M72.7,736.4 H74.6 M72.7,734.7 H74.6 M72.7,732.9 H74.6 M72.7,731.2 H74.6 M72.7,729.5 H74.6 M72.7,727.8 H74.6 M72.7,726.1 H74.6 M72.7,724.3 H74.6 M72.7,722.6 H74.6 M72.7,720.9 H74.6 M72.7,719.2 H74.6 M72.7,717.5 H74.6 M72.7,715.8 H74.6 M72.7,714.0 H74.6 M72.7,712.3 H74.6 M72.7,710.6 H74.6 M72.7,708.9 H74.6 M72.7,707.2 H74.6 M72.7,705.4 H74.6 M72.7,703.7 H74.6 M72.7,702.0 H74.6 M72.7,700.3 H74.6 M72.7,698.6 H74.6 M72.7,696.8 H74.6 M72.7,695.1 H74.6 M72.7,693.4 H74.6 M72.7,691.7 H74.6 M72.7,690.0 H74.6 M72.7,688.2 H74.6 M72.7,686.5 H74.6 M72.7,684.8 H74.6 M72.7,683.1 H74.6 M72.7,681.4 H74.6 M72.7,679.7 H74.6 M72.7,677.9 H74.6 M72.7,676.2 H74.6 M72.7,674.5 H74.6 M72.7,672.8 H74.6 M72.7,671.1 H74.6 M72.7,669.3 H74.6 M72.7,667.6 H74.6 M72.7,665.9 H74.6 M72.7,664.2 H74.6 M72.7,662.5 H74.6 M72.7,660.7 H74.6 M72.7,659.0 H74.6 M72.7,657.3 H74.6 M72.7,655.6 H74.6 M72.7,653.9 H74.6 M72.7,652.2 H74.6 M72.7,650.4 H74.6 M72.7,648.7 H74.6 M72.7,647.0 H74.6 M72.7,645.3 H74.6 M72.7,643.6 H74.6 M72.7,641.8 H74.6 M72.7,640.1 H74.6 M72.7,638.4 H74.6 M72.7,636.7 H74.6 M72.7,635.0 H74.6 M72.7,633.2 H74.6 M72.7,631.5 H74.6 M72.7,629.8 H74.6 M72.7,628.1 H74.6 M72.7,626.4 H74.6 M72.7,624.6 H74.6 M72.7,622.9 H74.6 M72.7,621.2 H74.6 M72.7,619.5 H74.6 M72.7,617.8 H74.6 M72.7,616.1 H74.6 M72.7,614.3 H74.6 M72.7,612.6 H74.6 M72.7,610.9 H74.6 M72.7,609.2 H74.6 M72.7,607.5 H74.6 M72.7,605.7 H74.6 M72.7,604.0 H74.6 " stroke="#9a9a9a" stroke-width="0.7" fill="none"/><path d="M74.6,601.7 V777.2" stroke="#505050" stroke-width="1.6" fill="none"/><text x="59.0" y="779.5" text-anchor="end" font-family="Liberation Mono" font-weight="bold" font-size="5.8" fill="#4a4a4a">0</text><text x="59.0" y="762.3" text-anchor="end" font-family="Liberation Mono" font-weight="bold" font-size="5.8" fill="#4a4a4a">154</text><text x="59.0" y="745.1" text-anchor="end" font-family="Liberation Mono" font-weight="bold" font-size="5.8" fill="#4a4a4a">308</text><text x="59.0" y="727.9" text-anchor="end" font-family="Liberation Mono" font-weight="bold" font-size="5.8" fill="#4a4a4a">462</text><text x="59.0" y="710.7" text-anchor="end" font-family="Liberation Mono" font-weight="bold" font-size="5.8" fill="#4a4a4a">616</text><text x="59.0" y="693.5" text-anchor="end" font-family="Liberation Mono" font-weight="bold" font-size="5.8" fill="#4a4a4a">770</text><text x="59.0" y="676.4" text-anchor="end" font-family="Liberation Mono" font-weight="bold" font-size="5.8" fill="#4a4a4a">924</text><text x="59.0" y="659.2" text-anchor="end" font-family="Liberation Mono" font-weight="bold" font-size="5.8" fill="#4a4a4a">1078</text><text x="59.0" y="642.0" text-anchor="end" font-family="Liberation Mono" font-weight="bold" font-size="5.8" fill="#4a4a4a">1232</text><text x="59.0" y="624.8" text-anchor="end" font-family="Liberation Mono" font-weight="bold" font-size="5.8" fill="#4a4a4a">1386</text><text x="59.0" y="607.6" text-anchor="end" font-family="Liberation Mono" font-weight="bold" font-size="5.8" fill="#4a4a4a">1540</text><path d="M124.2,774.2 V777.2 M174.5,774.2 V777.2 M224.8,774.2 V777.2 M275.1,774.2 V777.2 M325.3,774.2 V777.2 M375.6,774.2 V777.2 M425.9,774.2 V777.2 M476.1,774.2 V777.2 M526.4,774.2 V777.2 M576.7,774.2 V777.2 M627.0,774.2 V777.2 " stroke="#444" stroke-width="1" fill="none"/><path d="M83.3,776.8 H84.7 M93.4,776.8 H94.8 M103.4,776.8 H104.8 M113.5,776.8 H114.9 M133.6,776.8 H135.0 M143.6,776.8 H145.0 M153.7,776.8 H155.1 M163.7,776.8 H165.1 M183.9,776.8 H185.3 M193.9,776.8 H195.3 M204.0,776.8 H205.4 M214.0,776.8 H215.4 M234.1,776.8 H235.5 M244.2,776.8 H245.6 M254.2,776.8 H255.6 M264.3,776.8 H265.7 M284.4,776.8 H285.8 M294.5,776.8 H295.9 M304.5,776.8 H305.9 M314.6,776.8 H316.0 M334.7,776.8 H336.1 M344.7,776.8 H346.1 M354.8,776.8 H356.2 M364.8,776.8 H366.2 M385.0,776.8 H386.4 M395.0,776.8 H396.4 M405.1,776.8 H406.5 M415.1,776.8 H416.5 M435.2,776.8 H436.6 M445.3,776.8 H446.7 M455.3,776.8 H456.7 M465.4,776.8 H466.8 M485.5,776.8 H486.9 M495.6,776.8 H497.0 M505.6,776.8 H507.0 M515.7,776.8 H517.1 M535.8,776.8 H537.2 M545.8,776.8 H547.2 M555.9,776.8 H557.3 M565.9,776.8 H567.3 M586.1,776.8 H587.5 M596.1,776.8 H597.5 M606.2,776.8 H607.6 M616.2,776.8 H617.6 M636.3,776.8 H637.7 M646.4,776.8 H647.8 M656.4,776.8 H657.8 M666.5,776.8 H667.9 " stroke="#666" stroke-width="1" fill="none"/><text x="174.5" y="782.7" text-anchor="middle" font-family="Liberation Mono" font-weight="bold" font-size="5.8" fill="#4a4a4a">20</text><text x="275.1" y="782.7" text-anchor="middle" font-family="Liberation Mono" font-weight="bold" font-size="5.8" fill="#4a4a4a">30</text><text x="375.6" y="782.7" text-anchor="middle" font-family="Liberation Mono" font-weight="bold" font-size="5.8" fill="#4a4a4a">40</text><text x="476.1" y="782.7" text-anchor="middle" font-family="Liberation Mono" font-weight="bold" font-size="5.8" fill="#4a4a4a">50</text><text x="576.7" y="782.7" text-anchor="middle" font-family="Liberation Mono" font-weight="bold" font-size="5.8" fill="#4a4a4a">60</text><text x="350.7" y="786.7" font-family="Liberation Mono" font-weight="bold" font-size="5.8" fill="#7a1e48">GA_DICL_Formula.ASC</text><text x="542.6" y="786.7" font-family="Liberation Mono" font-weight="bold" font-size="5.8" fill="#5a5ac0">XPowder Ver. 2004.04.56 PRO</text><path d="M74.9,750.0 L75.1,735.0 L75.5,719.7 L77.3,720.3 L77.8,722.0 L79.0,716.2 L79.9,709.2 L81.3,707.5 L82.5,708.6 L83.3,704.5 L85.1,718.0 L86.3,709.8 L87.2,714.5 L88.4,716.8 L89.5,713.9 L90.1,718.0 L91.3,711.0 L91.6,704.5 L92.4,715.6 L93.6,712.1 L94.8,715.0 L95.9,709.8 L96.8,708.0 L97.7,696.4 L98.6,706.9 L99.1,702.8 L100.6,723.2 L101.2,713.9 L102.6,702.2 L103.5,713.3 L104.9,706.9 L105.9,711.0 L107.3,705.1 L108.2,698.7 L110.0,700.4 L112.3,696.9 L112.9,706.9 L113.8,698.7 L115.0,706.3 L115.8,702.8 L117.0,711.5 L118.1,704.5 L119.3,709.8 L120.1,703.4 L120.8,719.7 L121.6,708.0 L122.8,705.1 L124.0,708.6 L125.5,700.4 L126.3,715.0 L127.5,704.5 L129.2,705.7 L130.4,703.9 L132.2,705.1 L133.3,714.5 L134.5,708.0 L136.0,714.5 L136.8,697.5 L138.0,713.9 L139.2,699.3 L140.3,705.1 L140.9,701.0 L142.3,717.4 L143.5,708.6 L145.0,712.1 L146.8,707.5 L147.5,699.0 L148.2,698.6 L148.9,707.3 L149.8,702.1 L150.9,706.7 L152.1,698.6 L152.7,688.6 L153.8,700.9 L155.2,708.5 L156.4,688.6 L157.3,698.6 L158.5,707.9 L159.7,698.6 L161.4,695.0 L163.0,703.2 L164.4,700.3 L165.5,701.5 L166.9,690.4 L167.9,698.6 L169.0,696.8 L170.0,702.6 L170.8,698.6 L172.0,705.0 L173.5,699.7 L174.3,706.1 L175.5,711.4 L176.6,712.6 L177.4,718.4 L178.6,714.9 L179.5,709.1 L180.5,703.8 L181.6,711.4 L182.5,705.6 L183.6,711.4 L185.1,689.2 L186.3,700.9 L187.5,706.7 L188.7,697.4 L189.8,696.2 L191.2,692.1 L192.2,700.9 L193.0,696.2 L194.1,692.7 L195.1,698.6 L196.1,685.7 L197.1,695.0 L198.2,691.0 L199.4,694.5 L200.6,697.4 L201.7,686.9 L202.9,696.2 L204.1,683.4 L205.2,691.5 L207.0,692.1 L208.7,681.6 L209.9,684.5 L210.9,676.9 L212.3,683.4 L213.2,689.8 L214.4,679.3 L215.5,684.5 L216.7,680.4 L217.9,671.7 L218.7,675.2 L219.5,669.3 L220.7,677.5 L221.6,665.3 L222.9,665.8 L224.3,657.0 L225.5,662.8 L226.9,668.1 L227.8,666.9 L229.0,652.3 L229.6,665.8 L230.4,658.7 L231.3,677.4 L232.5,661.7 L233.7,661.1 L234.9,652.9 L236.3,651.2 L237.2,642.4 L238.1,649.4 L239.3,638.9 L240.1,651.2 L240.7,642.4 L241.6,634.2 L242.4,637.7 L243.3,629.5 L244.2,633.0 L245.1,638.3 L246.3,631.9 L247.5,627.2 L248.6,637.7 L249.8,625.5 L251.0,628.4 L252.4,629.5 L253.8,631.9 L254.7,634.8 L255.9,628.4 L257.3,622.0 L258.2,627.2 L259.4,633.0 L260.3,626.6 L261.7,614.4 L262.9,631.9 L263.5,613.2 L264.4,603.3 L265.2,615.5 L265.8,636.6 L267.0,629.5 L268.1,636.6 L268.7,631.3 L269.9,624.9 L270.8,628.4 L271.6,623.1 L272.8,616.7 L273.6,627.2 L274.6,638.9 L275.2,655.2 L276.3,647.1 L277.5,656.4 L278.7,664.6 L279.8,656.4 L281.0,661.7 L282.2,654.1 L283.1,668.1 L283.9,661.1 L285.3,668.7 L286.5,651.7 L287.7,661.7 L288.8,662.8 L290.0,665.8 L290.9,659.9 L292.1,667.5 L293.5,657.6 L294.7,665.2 L295.8,657.0 L296.8,668.1 L298.3,656.0 L298.9,651.6 L299.8,650.4 L300.9,655.1 L301.5,648.7 L302.7,655.7 L303.8,654.5 L305.0,658.0 L306.2,654.5 L307.3,661.0 L308.5,656.9 L309.7,649.9 L310.6,648.7 L311.4,656.3 L312.0,662.7 L313.0,675.0 L314.0,665.0 L314.7,663.3 L315.8,653.4 L316.7,647.5 L317.6,656.9 L318.4,663.3 L319.6,661.0 L320.8,665.6 L322.0,673.2 L322.8,663.9 L323.5,658.0 L324.3,665.0 L325.1,651.6 L326.0,666.2 L327.0,670.3 L328.1,664.5 L329.3,661.5 L330.7,662.1 L331.9,668.6 L333.3,680.2 L334.0,668.6 L334.8,658.0 L336.0,670.9 L337.1,663.3 L338.7,652.8 L339.5,661.5 L340.3,663.9 L341.2,659.8 L342.6,676.1 L343.6,663.9 L344.5,665.0 L345.7,660.4 L347.1,655.7 L348.5,672.6 L349.4,663.9 L351.2,656.9 L352.3,661.5 L353.5,663.9 L354.7,662.1 L355.8,662.1 L357.0,663.9 L357.8,670.3 L359.0,665.0 L360.5,663.9 L361.7,665.0 L362.8,664.5 L364.0,668.6 L365.8,665.0 L366.9,665.6 L367.9,667.4 L369.0,679.6 L370.2,667.4 L371.4,666.2 L372.5,667.4 L373.2,666.4 L374.1,673.4 L375.3,689.7 L376.1,682.7 L377.3,675.1 L378.4,687.4 L379.2,684.5 L380.2,688.6 L381.3,685.0 L382.5,681.0 L383.4,683.9 L384.3,679.2 L385.1,677.5 L386.0,678.0 L387.2,683.9 L387.8,685.0 L388.7,695.0 L389.8,688.6 L390.5,690.3 L391.3,680.4 L392.1,687.4 L393.3,682.7 L394.2,685.6 L395.1,688.0 L396.5,682.7 L397.5,688.0 L398.3,681.5 L399.1,678.6 L399.8,683.9 L400.6,690.9 L401.2,703.2 L402.1,690.9 L403.0,679.2 L403.8,671.6 L404.9,673.4 L405.9,676.3 L406.8,686.2 L408.8,674.5 L409.6,680.4 L410.6,687.4 L411.5,681.0 L412.3,686.2 L413.1,687.4 L414.3,682.1 L415.2,681.5 L415.8,689.7 L416.4,695.0 L417.3,685.0 L418.1,692.1 L419.3,695.0 L420.5,693.2 L421.6,691.5 L422.8,692.6 L424.0,691.5 L425.2,690.3 L426.0,696.1 L426.9,689.1 L428.1,696.1 L429.2,697.9 L430.4,697.3 L431.8,707.2 L432.7,697.9 L434.1,690.3 L435.1,689.7 L436.3,696.1 L437.4,699.1 L438.4,695.6 L440.0,690.3 L440.9,700.2 L441.9,706.1 L443.3,697.9 L444.4,699.1 L445.5,703.0 L446.5,711.5 L448.1,702.4 L449.6,710.0 L450.7,698.8 L452.1,710.8 L454.1,713.8 L455.7,702.1 L457.3,711.0 L458.5,713.7 L459.8,715.2 L460.9,714.3 L462.5,704.7 L464.0,715.4 L465.2,703.7 L467.1,713.6 L469.0,707.5 L470.4,714.7 L471.5,721.1 L473.6,713.0 L475.2,716.3 L477.0,729.7 L478.3,720.8 L480.1,728.3 L482.0,717.1 L483.9,724.6 L485.6,714.7 L487.5,716.6 L489.3,731.1 L490.9,721.4 L492.3,722.7 L493.9,731.8 L495.9,729.7 L497.2,732.6 L498.7,724.8 L500.6,725.1 L502.0,732.3 L503.2,721.5 L504.7,730.4 L506.0,725.3 L508.0,724.7 L509.8,735.8 L511.7,725.2 L513.5,733.8 L515.3,727.9 L516.6,732.3 L517.7,727.1 L519.7,734.5 L521.2,726.0 L523.2,735.8 L524.7,725.6 L526.7,733.7 L528.3,725.7 L529.4,731.3 L531.0,723.4 L532.7,734.8 L534.5,726.1 L536.1,737.0 L537.8,727.6 L539.8,740.9 L541.2,738.0 L542.4,731.2 L544.3,733.4 L545.7,728.7 L547.5,735.7 L549.0,728.6 L551.0,734.4 L552.4,728.6 L553.6,737.9 L554.9,728.8 L556.2,734.0 L558.3,722.7 L560.0,736.1 L561.9,726.1 L563.4,736.0 L564.6,725.2 L566.1,735.2 L567.6,738.0 L569.1,727.4 L570.5,733.8 L572.1,726.6 L573.4,737.5 L574.8,723.1 L576.3,737.4 L577.5,724.7 L578.9,736.9 L580.9,726.4 L582.5,737.0 L584.3,729.5 L585.8,740.0 L587.5,730.5 L589.1,739.4 L591.1,733.1 L592.8,742.0 L594.2,733.3 L595.8,729.4 L597.7,741.5 L599.7,735.4 L601.0,740.6 L602.5,729.7 L604.6,741.6 L605.9,728.6 L607.4,735.5 L608.6,731.1 L610.0,740.0 L611.1,731.5 L613.1,731.5 L614.4,729.9 L615.7,740.4 L617.4,728.5 L619.2,741.4 L620.4,727.9 L622.0,740.3 L623.4,730.8 L625.1,738.6 L627.1,731.5 L628.9,744.4 L630.8,740.5 L632.4,734.6 L634.1,740.9 L635.2,733.3 L636.6,733.8 L638.1,742.3 L639.4,735.1 L641.3,745.2 L642.9,739.3 L644.5,733.0 L646.3,744.0 L647.7,730.6 L648.9,735.2 L650.8,745.8 L652.1,734.6 L654.0,743.7 L655.3,733.6 L657.4,741.4 L658.8,735.1 L660.1,744.1 L661.2,731.1 L662.6,742.2 L663.9,731.6 L665.3,739.6 L666.5,729.4 L668.4,731.7 L669.9,739.3 L671.1,729.7 L673.1,740.5 L675.1,732.7 L675.3,740.3" stroke="#8e4274" stroke-width="1.0" fill="none" stroke-linejoin="round"/></svg>
</body></html>
